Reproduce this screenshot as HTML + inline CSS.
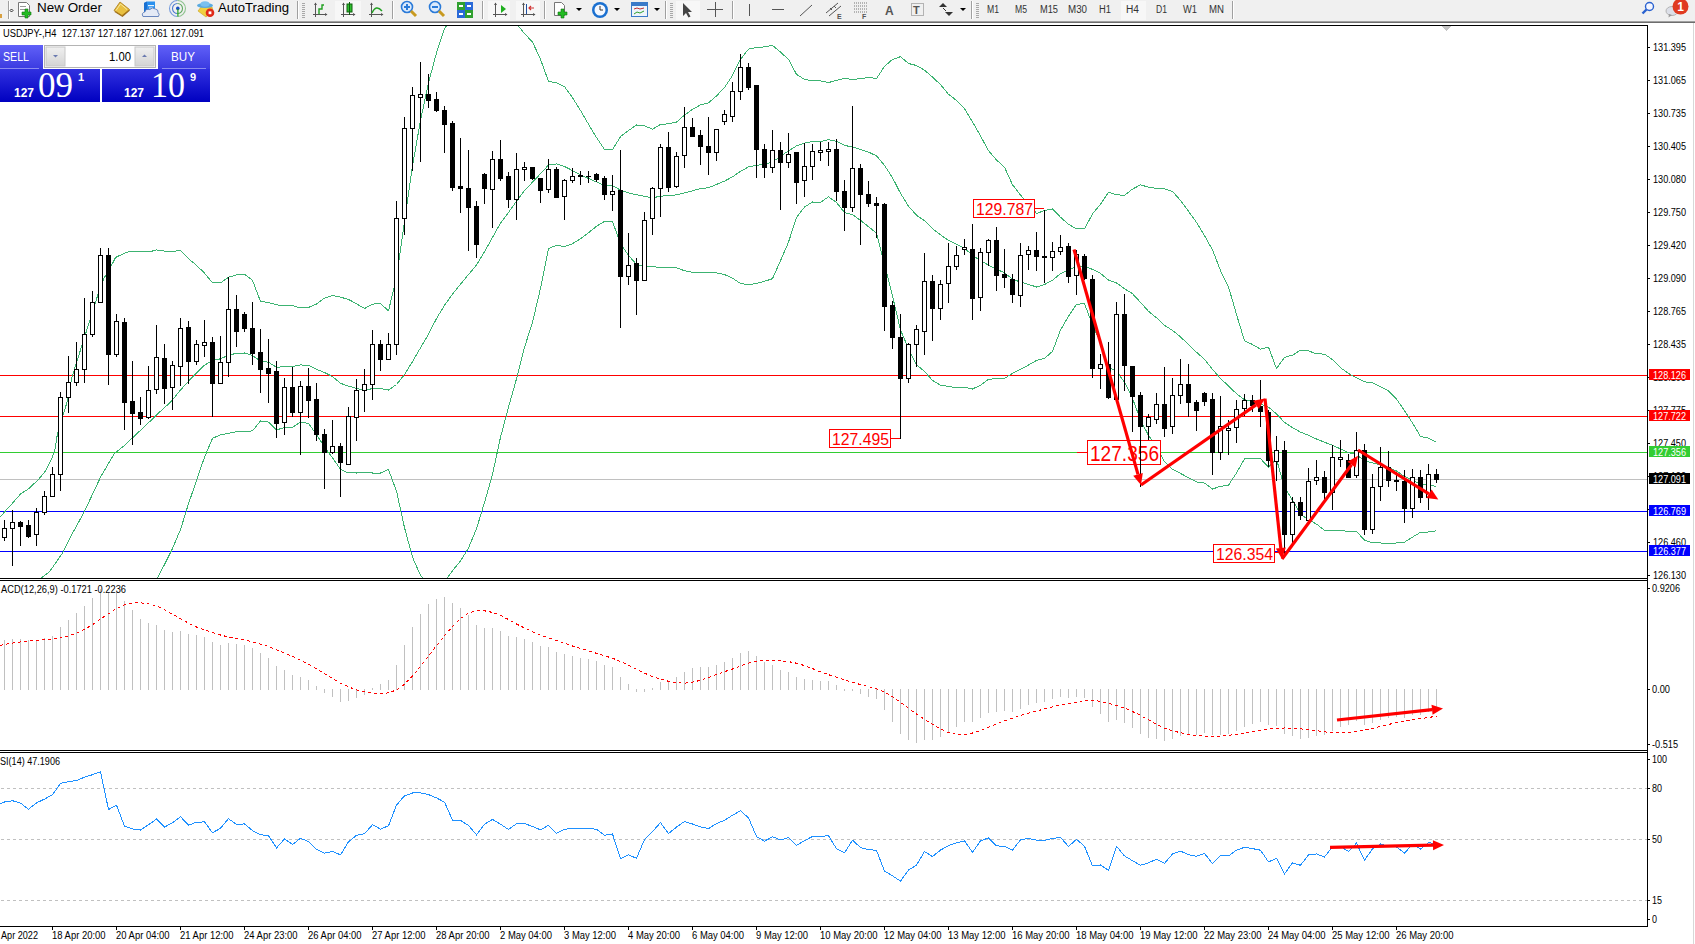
<!DOCTYPE html>
<html><head><meta charset="utf-8"><title>USDJPY H4</title>
<style>html,body{margin:0;padding:0;background:#fff;} body{width:1695px;height:944px;overflow:hidden;font-family:"Liberation Sans", sans-serif;} svg{display:block;}</style>
</head><body>
<svg width="1695" height="944" viewBox="0 0 1695 944" text-rendering="optimizeLegibility">
<defs>
<linearGradient id="gTop" x1="0" y1="0" x2="0" y2="1"><stop offset="0" stop-color="#6060f8"/><stop offset="1" stop-color="#3a3ae0"/></linearGradient>
<linearGradient id="gBot" x1="0" y1="0" x2="0" y2="1"><stop offset="0" stop-color="#3030e0"/><stop offset="1" stop-color="#0000c0"/></linearGradient>
<linearGradient id="gBtn" x1="0" y1="0" x2="0" y2="1"><stop offset="0" stop-color="#f0f0f0"/><stop offset="1" stop-color="#d4d4d4"/></linearGradient>
<clipPath id="mainclip"><rect x="0" y="26" width="1647" height="552"/></clipPath>
</defs><rect x="0" y="45" width="43" height="24" fill="url(#gTop)"/><rect x="158" y="45" width="52" height="24" fill="url(#gTop)"/><rect x="0" y="69" width="100" height="33" fill="url(#gBot)"/><rect x="102" y="69" width="108" height="33" fill="url(#gBot)"/><rect x="0" y="68" width="39" height="1" fill="#8a8af0"/><rect x="162" y="68" width="44" height="1" fill="#8a8af0"/><rect x="44.5" y="45.5" width="111" height="22" fill="#fff" stroke="#b4b4b4"/><rect x="46" y="47" width="19" height="19" fill="url(#gBtn)" stroke="#c8c8c8"/><rect x="135" y="47" width="19" height="19" fill="url(#gBtn)" stroke="#c8c8c8"/><path d="M53 55 h5 l-2.5 2.5 z" fill="#6a7ab0"/><path d="M142 57 h5 l-2.5 -2.5 z" fill="#6a7ab0"/><text x="3" y="61" font-family="Liberation Sans" font-size="12" fill="#fff" text-anchor="start" font-weight="normal" textLength="26" lengthAdjust="spacingAndGlyphs">SELL</text><text x="171" y="61" font-family="Liberation Sans" font-size="12" fill="#fff" text-anchor="start" font-weight="normal" textLength="24" lengthAdjust="spacingAndGlyphs">BUY</text><text x="131" y="61" font-family="Liberation Sans" font-size="12" fill="#000" text-anchor="end" font-weight="normal" textLength="22" lengthAdjust="spacingAndGlyphs">1.00</text><text x="14" y="97" font-family="Liberation Sans" font-size="12" fill="#fff" text-anchor="start" font-weight="bold" textLength="20" lengthAdjust="spacingAndGlyphs">127</text><text x="38" y="97" font-family="Liberation Serif" font-size="36" fill="#fff" text-anchor="start" font-weight="normal" textLength="35" lengthAdjust="spacingAndGlyphs">09</text><text x="78" y="81" font-family="Liberation Sans" font-size="11" fill="#fff" text-anchor="start" font-weight="bold">1</text><text x="124" y="97" font-family="Liberation Sans" font-size="12" fill="#fff" text-anchor="start" font-weight="bold" textLength="20" lengthAdjust="spacingAndGlyphs">127</text><text x="151" y="97" font-family="Liberation Serif" font-size="36" fill="#fff" text-anchor="start" font-weight="normal" textLength="34" lengthAdjust="spacingAndGlyphs">10</text><text x="190" y="81" font-family="Liberation Sans" font-size="11" fill="#fff" text-anchor="start" font-weight="bold">9</text>
<g shape-rendering="crispEdges"><rect x="0" y="23" width="1695" height="921" fill="#ffffff"/><rect x="1693" y="23" width="1" height="921" fill="#d8d8d8"/><rect x="0" y="25" width="1648" height="1" fill="#000"/><rect x="1647" y="25" width="1" height="902" fill="#000"/><rect x="0" y="578" width="1648" height="1" fill="#000"/><rect x="0" y="580" width="1648" height="1" fill="#000"/><rect x="0" y="750" width="1648" height="1" fill="#000"/><rect x="0" y="752" width="1648" height="1" fill="#000"/><rect x="0" y="926" width="1648" height="1" fill="#000"/><path d="M1442 26 h9 l-4.5 5 z" fill="#c4c4c4"/></g>
<g><rect x="0" y="0" width="1695" height="21" fill="#f0f0f0"/><rect x="0" y="21" width="1695" height="1" fill="#a0a0a0"/><rect x="0" y="22" width="1695" height="1" fill="#6d6d6d"/><rect x="8" y="1" width="1" height="18" fill="#a0a0a0"/><rect x="9" y="1" width="1" height="18" fill="#ffffff"/><rect x="297" y="1" width="1" height="18" fill="#a0a0a0"/><rect x="298" y="1" width="1" height="18" fill="#ffffff"/><rect x="392" y="1" width="1" height="18" fill="#a0a0a0"/><rect x="393" y="1" width="1" height="18" fill="#ffffff"/><rect x="482" y="1" width="1" height="18" fill="#a0a0a0"/><rect x="483" y="1" width="1" height="18" fill="#ffffff"/><rect x="544" y="1" width="1" height="18" fill="#a0a0a0"/><rect x="545" y="1" width="1" height="18" fill="#ffffff"/><rect x="665" y="1" width="1" height="18" fill="#a0a0a0"/><rect x="666" y="1" width="1" height="18" fill="#ffffff"/><rect x="732" y="1" width="1" height="18" fill="#a0a0a0"/><rect x="733" y="1" width="1" height="18" fill="#ffffff"/><rect x="971" y="1" width="1" height="18" fill="#a0a0a0"/><rect x="972" y="1" width="1" height="18" fill="#ffffff"/><rect x="1232" y="1" width="1" height="18" fill="#a0a0a0"/><rect x="1233" y="1" width="1" height="18" fill="#ffffff"/><rect x="302" y="3" width="3" height="1" fill="#a8a8a8"/><rect x="302" y="5" width="3" height="1" fill="#a8a8a8"/><rect x="302" y="7" width="3" height="1" fill="#a8a8a8"/><rect x="302" y="9" width="3" height="1" fill="#a8a8a8"/><rect x="302" y="11" width="3" height="1" fill="#a8a8a8"/><rect x="302" y="13" width="3" height="1" fill="#a8a8a8"/><rect x="302" y="15" width="3" height="1" fill="#a8a8a8"/><rect x="302" y="17" width="3" height="1" fill="#a8a8a8"/><rect x="670" y="3" width="3" height="1" fill="#a8a8a8"/><rect x="670" y="5" width="3" height="1" fill="#a8a8a8"/><rect x="670" y="7" width="3" height="1" fill="#a8a8a8"/><rect x="670" y="9" width="3" height="1" fill="#a8a8a8"/><rect x="670" y="11" width="3" height="1" fill="#a8a8a8"/><rect x="670" y="13" width="3" height="1" fill="#a8a8a8"/><rect x="670" y="15" width="3" height="1" fill="#a8a8a8"/><rect x="670" y="17" width="3" height="1" fill="#a8a8a8"/><rect x="976" y="3" width="3" height="1" fill="#a8a8a8"/><rect x="976" y="5" width="3" height="1" fill="#a8a8a8"/><rect x="976" y="7" width="3" height="1" fill="#a8a8a8"/><rect x="976" y="9" width="3" height="1" fill="#a8a8a8"/><rect x="976" y="11" width="3" height="1" fill="#a8a8a8"/><rect x="976" y="13" width="3" height="1" fill="#a8a8a8"/><rect x="976" y="15" width="3" height="1" fill="#a8a8a8"/><rect x="976" y="17" width="3" height="1" fill="#a8a8a8"/><rect x="335" y="1" width="26" height="19" fill="#f7f7f7"/><rect x="488" y="1" width="22" height="19" fill="#f7f7f7"/><rect x="516" y="1" width="24" height="19" fill="#f7f7f7"/><rect x="676" y="1" width="24" height="19" fill="#f7f7f7"/><rect x="1121" y="1" width="25" height="19" fill="#f7f7f7"/><rect x="0" y="14" width="2" height="4" fill="#d8a040"/><path d="M11.5 9 l1.5 1.5 l-1.5 1.5 l-1.5 -1.5 z" fill="none" stroke="#000" stroke-width="0.8"/><path d="M18.5 2.5 h8 l3 3 v11 h-11 z" fill="#fff" stroke="#777" stroke-width="1"/><rect x="20" y="6" width="6" height="1" fill="#999"/><rect x="20" y="9" width="6" height="1" fill="#999"/><path d="M25 9 h3 v3 h3 v3 h-3 v3 h-3 v-3 h-3 v-3 h3 z" fill="#22bb22" stroke="#117711" stroke-width="0.6"/><text x="37" y="12" font-family="Liberation Sans" font-size="13" fill="#000" text-anchor="start" font-weight="normal" textLength="65" lengthAdjust="spacingAndGlyphs">New Order</text><path d="M114.5 12 L120 3 L130 10.5 L122.5 17 Z" fill="#9a6a18"/><path d="M114 10.5 L120 2 L129.5 9.5 L122 15.5 Z" fill="#e8c040" stroke="#a8781a" stroke-width="0.8"/><path d="M116 10.5 L120.5 4 L127 9.5" fill="none" stroke="#f8e8a0" stroke-width="1"/><path d="M144 3 L147 1.5 L155 1.5 L155 12 L144 12 Z" fill="#2a90ee"/><path d="M144 3 L147 1.5 L147 12 L144 12 Z" fill="#1a70d0"/><rect x="148" y="5" width="6" height="1.2" fill="#e8f4ff"/><rect x="149" y="7.5" width="4" height="1" fill="#e8f4ff"/><path d="M143 16.5 q-2 -3.5 1.8 -4.5 q1 -3.5 5 -2.5 q2.5 -2.8 5.5 -0.5 q3.2 0.5 2.8 3.5 q2 1.5 0.4 4 z" fill="#e4eaf6" stroke="#5a7ab8" stroke-width="0.9"/><path d="M177.5 16.5 A8 8 0 0 1 177.5 0.5" fill="none" stroke="#5a88d8" stroke-width="1.1" opacity="0.8"/><path d="M177.5 0.5 A8 8 0 0 1 177.5 16.5" fill="none" stroke="#78b878" stroke-width="1.1" opacity="0.8"/><path d="M177.5 13.5 A5 5 0 0 1 177.5 3.5" fill="none" stroke="#4a78d0" stroke-width="1.1"/><path d="M177.5 3.5 A5 5 0 0 1 177.5 13.5" fill="none" stroke="#60a860" stroke-width="1.1"/><circle cx="177.8" cy="8.4" r="1.8" fill="#1a50c0"/><rect x="177.3" y="9" width="1.2" height="7.5" fill="#20a020"/><path d="M198 11 L201 7 L212 7 L213 11 L206 17 Z" fill="#f0d040" stroke="#c8a020" stroke-width="0.6"/><ellipse cx="205" cy="5.5" rx="8" ry="2.6" fill="#5aaae0"/><ellipse cx="205" cy="4" rx="4.5" ry="2.8" fill="#7ac0ee"/><circle cx="210" cy="12.8" r="4.3" fill="#e02a18"/><rect x="208.6" y="11.4" width="2.8" height="2.8" fill="#fff"/><text x="218" y="12" font-family="Liberation Sans" font-size="13" fill="#000" text-anchor="start" font-weight="normal" textLength="71" lengthAdjust="spacingAndGlyphs">AutoTrading</text><path d="M315.5 3 v14 M313 14.5 h14" fill="none" stroke="#555" stroke-width="1"/><path d="M314 5 l1.5 -2.5 l1.5 2.5 z M325 13 l2.5 1.5 l-2.5 1.5 z" fill="#555"/><path d="M319 14 v-5 h3 v-4 h2" fill="none" stroke="#20a020" stroke-width="1.4"/><path d="M343.5 3 v14 M341 14.5 h14" fill="none" stroke="#555" stroke-width="1"/><path d="M342 5 l1.5 -2.5 l1.5 2.5 z M353 13 l2.5 1.5 l-2.5 1.5 z" fill="#555"/><rect x="347" y="4" width="5" height="8" fill="#30c030" stroke="#106010" stroke-width="1"/><rect x="349" y="2" width="1" height="13" fill="#106010"/><path d="M371.5 3 v14 M369 14.5 h14" fill="none" stroke="#555" stroke-width="1"/><path d="M370 5 l1.5 -2.5 l1.5 2.5 z M381 13 l2.5 1.5 l-2.5 1.5 z" fill="#555"/><path d="M372 13 q4 -9 10 -2" fill="none" stroke="#20a020" stroke-width="1.4"/><circle cx="407" cy="7" r="5.5" fill="#dbeafc" stroke="#2a7ad8" stroke-width="1.6"/><path d="M411 11 l5 5" stroke="#c89a20" stroke-width="3"/><rect x="404" y="6" width="6" height="2" fill="#2a7ad8"/><rect x="406" y="4" width="2" height="6" fill="#2a7ad8"/><circle cx="435" cy="7" r="5.5" fill="#dbeafc" stroke="#2a7ad8" stroke-width="1.6"/><path d="M439 11 l5 5" stroke="#c89a20" stroke-width="3"/><rect x="432" y="6" width="6" height="2" fill="#2a7ad8"/><rect x="457" y="2" width="8" height="8" fill="#30a030"/><rect x="465" y="2" width="8" height="8" fill="#2a6ad8"/><rect x="457" y="10" width="8" height="8" fill="#2a6ad8"/><rect x="465" y="10" width="8" height="8" fill="#30a030"/><rect x="459" y="5" width="4" height="2" fill="#fff"/><rect x="467" y="5" width="4" height="2" fill="#fff"/><rect x="459" y="13" width="4" height="2" fill="#fff"/><rect x="467" y="13" width="4" height="2" fill="#fff"/><path d="M495.5 3 v14 M493 14.5 h14" fill="none" stroke="#555" stroke-width="1"/><path d="M494 5 l1.5 -2.5 l1.5 2.5 z M505 13 l2.5 1.5 l-2.5 1.5 z" fill="#555"/><path d="M501 5 l5 4 l-5 4 z" fill="#20b020"/><path d="M523.5 3 v14 M521 14.5 h14" fill="none" stroke="#555" stroke-width="1"/><path d="M522 5 l1.5 -2.5 l1.5 2.5 z M533 13 l2.5 1.5 l-2.5 1.5 z" fill="#555"/><rect x="526" y="4" width="1" height="10" fill="#2050a0"/><path d="M534 8 h-5 M531 6 l-2 2 l2 2" fill="none" stroke="#d03030" stroke-width="1.2"/><path d="M554.5 2.5 h7 l3 3 v10 h-10 z" fill="#fff" stroke="#777"/><path d="M561 9 h3 v3 h3 v3 h-3 v3 h-3 v-3 h-3 v-3 h3 z" fill="#22bb22" stroke="#117711" stroke-width="0.6"/><path d="M576 8 h6 l-3 3 z" fill="#000"/><path d="M614 8 h6 l-3 3 z" fill="#000"/><path d="M654 8 h6 l-3 3 z" fill="#000"/><path d="M960 8 h6 l-3 3 z" fill="#000"/><circle cx="600" cy="10" r="8" fill="#1a70d0"/><circle cx="600" cy="10" r="5.5" fill="#f4f8ff"/><path d="M600 6 v4 h3" stroke="#333" stroke-width="1" fill="none"/><rect x="631.5" y="2.5" width="16" height="14" fill="#eef4fb" stroke="#3a7ac8"/><rect x="632" y="3" width="15" height="3" fill="#3a7ac8"/><path d="M634 9 l3 -1 l3 1 l4 -1" stroke="#c03030" fill="none"/><path d="M634 14 l3 -2 l3 1 l4 -2" stroke="#30a030" fill="none"/><path d="M683 3 v13 l3 -3 l2.5 4.5 l2 -1 l-2.5 -4.5 h4 z" fill="#444"/><path d="M707 9.5 h16 M715.5 2 v15" stroke="#555" stroke-width="1"/><rect x="749" y="4" width="1" height="12" fill="#555"/><rect x="772" y="9" width="12" height="1" fill="#555"/><path d="M800 16 l12 -11" stroke="#555" stroke-width="1"/><path d="M826 13 l12 -10 M829 16 l12 -10 M830 8 l2 2 M834 6 l2 2" stroke="#555" stroke-width="1" fill="none"/><text x="837" y="19" font-family="Liberation Sans" font-size="7" font-weight="bold" fill="#555">E</text><path d="M854 3 h13 M854 6 h13 M854 9 h13 M854 12 h13" stroke="#777" stroke-dasharray="1,1"/><text x="862" y="19" font-family="Liberation Sans" font-size="7" font-weight="bold" fill="#555">F</text><text x="885" y="15" font-family="Liberation Sans" font-size="12" fill="#555" text-anchor="start" font-weight="bold">A</text><rect x="911.5" y="3.5" width="12" height="12" fill="none" stroke="#777" stroke-dasharray="1,1"/><text x="913" y="14" font-family="Liberation Sans" font-size="11" fill="#555" text-anchor="start" font-weight="bold">T</text><path d="M939 7 l4 -4 l4 4 z M945 12 l4 4 l4 -4 z" fill="#333"/><path d="M943 8 l3 3" stroke="#333"/><text x="987" y="13" font-family="Liberation Sans" font-size="10" fill="#333" text-anchor="start" font-weight="normal" textLength="12" lengthAdjust="spacingAndGlyphs">M1</text><text x="1015" y="13" font-family="Liberation Sans" font-size="10" fill="#333" text-anchor="start" font-weight="normal" textLength="12" lengthAdjust="spacingAndGlyphs">M5</text><text x="1040" y="13" font-family="Liberation Sans" font-size="10" fill="#333" text-anchor="start" font-weight="normal" textLength="18" lengthAdjust="spacingAndGlyphs">M15</text><text x="1068" y="13" font-family="Liberation Sans" font-size="10" fill="#333" text-anchor="start" font-weight="normal" textLength="19" lengthAdjust="spacingAndGlyphs">M30</text><text x="1099" y="13" font-family="Liberation Sans" font-size="10" fill="#333" text-anchor="start" font-weight="normal" textLength="12" lengthAdjust="spacingAndGlyphs">H1</text><text x="1126" y="13" font-family="Liberation Sans" font-size="10" fill="#333" text-anchor="start" font-weight="normal" textLength="13" lengthAdjust="spacingAndGlyphs">H4</text><text x="1156" y="13" font-family="Liberation Sans" font-size="10" fill="#333" text-anchor="start" font-weight="normal" textLength="11" lengthAdjust="spacingAndGlyphs">D1</text><text x="1183" y="13" font-family="Liberation Sans" font-size="10" fill="#333" text-anchor="start" font-weight="normal" textLength="14" lengthAdjust="spacingAndGlyphs">W1</text><text x="1209" y="13" font-family="Liberation Sans" font-size="10" fill="#333" text-anchor="start" font-weight="normal" textLength="15" lengthAdjust="spacingAndGlyphs">MN</text><circle cx="1649.5" cy="6.5" r="4" fill="#f4f6ff" stroke="#2a62d0" stroke-width="1.4"/><path d="M1646.5 9.5 l-4 4" stroke="#2a62d0" stroke-width="2.4"/><ellipse cx="1672" cy="11" rx="6" ry="4.5" fill="#dcdfe8" stroke="#b4b4b4" stroke-width="1"/><path d="M1669 14 l-0.5 3.5 l3.5 -2.5" fill="#999"/><circle cx="1680.5" cy="6.5" r="8" fill="#e03a20"/><text x="1680.5" y="11" font-family="Liberation Sans" font-size="12" fill="#fff" text-anchor="middle" font-weight="bold">1</text></g>
<g shape-rendering="crispEdges"><rect x="0" y="375" width="1647" height="1" fill="#ff0000"/><rect x="0" y="416" width="1647" height="1" fill="#ff0000"/><rect x="0" y="452" width="1647" height="1" fill="#32cd32"/><rect x="0" y="479" width="1647" height="1" fill="#c0c0c0"/><rect x="0" y="511" width="1647" height="1" fill="#0000ff"/><rect x="0" y="551" width="1647" height="1" fill="#0000ff"/><g clip-path="url(#mainclip)"><polyline points="0.0,517.3 5.7,510.6 11.4,504.5 21.0,493.4 27.6,489.6 38.1,480.0 45.8,470.5 52.4,457.2 55.3,447.7 57.2,435.3 63.0,415.3 67.7,400.0 72.0,377.0 97.5,296.0 104.0,278.0 106.0,275.0 111.0,266.3 115.6,257.5 119.4,255.6 126.0,252.6 130.5,251.5 152.0,251.5 152.7,250.5 156.5,249.9 164.5,251.1 172.5,251.5 180.5,250.5 188.5,258.7 196.5,265.3 204.5,273.1 212.5,282.8 220.5,282.9 228.5,277.2 236.5,274.9 244.5,274.3 252.5,280.3 260.5,301.5 268.5,302.4 276.5,304.9 284.5,305.5 292.5,305.6 300.5,307.9 308.5,307.4 316.5,304.0 324.5,298.1 332.5,295.5 340.5,297.2 348.5,299.4 356.5,303.8 364.5,308.5 372.5,304.1 380.5,303.7 388.5,310.8 396.5,277.9 404.5,221.4 412.5,166.0 420.5,120.4 428.5,82.9 436.5,52.8 444.5,28.7 452.5,17.5 460.5,7.3 468.5,1.0 476.5,1.5 484.5,1.1 492.5,0.5 500.5,9.1 508.5,17.5 516.5,23.7 524.5,33.6 532.5,42.0 540.5,59.2 548.5,81.5 556.5,82.6 564.5,86.6 572.5,97.6 580.5,110.5 588.5,124.2 596.5,137.5 604.5,149.6 612.5,149.7 620.5,136.6 628.5,130.5 636.5,125.0 644.5,125.8 652.5,129.2 660.5,124.5 668.5,123.8 676.5,122.1 684.5,115.1 692.5,109.4 700.5,104.9 708.5,102.9 716.5,95.9 724.5,87.6 732.5,75.4 740.5,59.4 748.5,49.1 756.5,47.5 764.5,46.9 772.5,45.4 780.5,52.1 788.5,59.4 796.5,74.3 804.5,79.4 812.5,80.8 820.5,80.9 828.5,82.6 836.5,80.3 844.5,78.4 852.5,79.4 860.5,78.7 868.5,77.4 876.5,78.5 884.5,66.4 892.5,59.4 900.5,56.7 908.5,63.5 916.5,65.5 924.5,70.2 932.5,77.1 940.5,84.6 948.5,94.3 956.5,100.4 964.5,108.8 972.5,121.9 980.5,135.9 988.5,150.7 996.5,160.0 1004.5,167.2 1012.5,184.7 1020.5,195.1 1028.5,203.7 1036.5,213.5 1044.5,210.5 1052.5,209.0 1060.5,217.2 1068.5,224.2 1076.5,228.9 1084.5,229.0 1092.5,213.9 1100.5,204.2 1108.5,192.3 1116.5,194.8 1124.5,195.3 1132.5,189.1 1140.5,184.8 1148.5,187.2 1156.5,188.4 1164.5,188.8 1172.5,191.4 1180.5,200.4 1188.5,211.3 1196.5,222.4 1204.5,235.6 1212.5,249.9 1220.5,270.6 1228.5,286.8 1236.5,314.5 1244.5,340.8 1252.5,344.5 1260.5,349.2 1268.5,347.2 1276.5,368.6 1284.5,357.3 1292.5,355.2 1300.5,350.2 1308.5,350.9 1316.5,353.8 1324.5,354.1 1332.5,359.6 1340.5,367.7 1348.5,373.5 1356.5,377.9 1364.5,381.8 1372.5,382.9 1380.5,386.7 1388.5,390.9 1396.5,399.1 1404.5,410.7 1412.5,423.0 1420.5,436.5 1428.5,438.2 1436.5,442.3" fill="none" stroke="#3CB371" stroke-width="1"/><polyline points="39.0,581.0 41.0,578.3 49.6,571.6 62.9,552.5 72.4,533.5 83.9,512.5 101.0,476.3 114.4,453.4 124.0,445.8 139.2,431.5 152.5,419.0 156.5,414.8 164.5,407.8 172.5,399.9 180.5,390.0 188.5,381.2 196.5,372.8 204.5,365.2 212.5,360.6 220.5,358.8 228.5,355.2 236.5,353.3 244.5,353.0 252.5,355.6 260.5,361.2 268.5,362.2 276.5,367.3 284.5,366.6 292.5,366.5 300.5,364.9 308.5,365.4 316.5,369.3 324.5,372.5 332.5,376.6 340.5,383.3 348.5,386.1 356.5,388.4 364.5,390.5 372.5,388.5 380.5,388.4 388.5,390.1 396.5,384.5 404.5,374.5 412.5,361.6 420.5,347.8 428.5,334.2 436.5,318.5 444.5,305.3 452.5,294.1 460.5,284.2 468.5,274.5 476.5,265.1 484.5,251.8 492.5,237.4 500.5,223.2 508.5,212.4 516.5,201.3 524.5,190.5 532.5,182.2 540.5,173.7 548.5,165.0 556.5,163.9 564.5,166.5 572.5,170.6 580.5,174.7 588.5,178.5 596.5,181.9 604.5,185.4 612.5,185.7 620.5,190.1 628.5,193.0 636.5,194.7 644.5,196.3 652.5,197.8 660.5,196.2 668.5,195.6 676.5,194.9 684.5,192.9 692.5,190.8 700.5,188.6 708.5,187.8 716.5,184.4 724.5,181.1 732.5,176.8 740.5,171.4 748.5,166.9 756.5,165.4 764.5,164.1 772.5,162.0 780.5,156.4 788.5,150.8 796.5,145.9 804.5,143.2 812.5,141.4 820.5,141.6 828.5,139.7 836.5,141.4 844.5,145.4 852.5,147.0 860.5,149.5 868.5,152.1 876.5,155.8 884.5,165.4 892.5,177.7 900.5,193.3 908.5,206.2 916.5,215.2 924.5,220.8 932.5,228.7 940.5,234.8 948.5,240.4 956.5,244.1 964.5,248.1 972.5,255.5 980.5,260.6 988.5,265.1 996.5,269.3 1004.5,272.8 1012.5,279.1 1020.5,282.1 1028.5,284.4 1036.5,287.0 1044.5,284.5 1052.5,280.2 1060.5,273.6 1068.5,270.2 1076.5,266.5 1084.5,266.4 1092.5,269.4 1100.5,273.4 1108.5,280.0 1116.5,282.9 1124.5,288.8 1132.5,293.7 1140.5,302.4 1148.5,311.3 1156.5,317.8 1164.5,325.3 1172.5,330.4 1180.5,336.9 1188.5,344.5 1196.5,352.2 1204.5,359.4 1212.5,369.4 1220.5,378.4 1228.5,386.0 1236.5,393.7 1244.5,399.8 1252.5,401.6 1260.5,403.9 1268.5,407.1 1276.5,413.9 1284.5,422.4 1292.5,427.7 1300.5,432.1 1308.5,435.3 1316.5,439.0 1324.5,442.2 1332.5,445.3 1340.5,448.9 1348.5,452.6 1356.5,454.6 1364.5,461.0 1372.5,462.8 1380.5,464.8 1388.5,467.4 1396.5,471.0 1404.5,476.5 1412.5,480.1 1420.5,484.4 1428.5,485.1 1436.5,486.5" fill="none" stroke="#3CB371" stroke-width="1"/><polyline points="155.0,581.0 156.5,579.7 164.5,564.5 172.5,548.4 180.5,529.5 188.5,503.8 196.5,480.4 204.5,457.2 212.5,438.4 220.5,434.8 228.5,433.3 236.5,431.7 244.5,431.8 252.5,430.8 260.5,421.0 268.5,422.1 276.5,429.8 284.5,427.7 292.5,427.4 300.5,421.9 308.5,423.4 316.5,434.5 324.5,447.0 332.5,457.7 340.5,469.5 348.5,472.9 356.5,473.0 364.5,472.5 372.5,473.0 380.5,473.0 388.5,469.5 396.5,491.1 404.5,527.6 412.5,557.2 420.5,575.3 428.5,585.5 436.5,584.2 444.5,582.0 452.5,570.7 460.5,561.1 468.5,548.0 476.5,528.6 484.5,502.6 492.5,474.4 500.5,437.3 508.5,407.3 516.5,378.8 524.5,347.3 532.5,322.4 540.5,288.3 548.5,248.5 556.5,245.3 564.5,246.5 572.5,243.7 580.5,238.8 588.5,232.7 596.5,226.3 604.5,221.3 612.5,221.6 620.5,243.5 628.5,255.4 636.5,264.5 644.5,266.8 652.5,266.3 660.5,267.8 668.5,267.3 676.5,267.8 684.5,270.7 692.5,272.3 700.5,272.4 708.5,272.6 716.5,272.8 724.5,274.6 732.5,278.2 740.5,283.4 748.5,284.8 756.5,283.4 764.5,281.3 772.5,278.7 780.5,260.6 788.5,242.2 796.5,217.4 804.5,207.1 812.5,202.0 820.5,202.3 828.5,196.8 836.5,202.5 844.5,212.5 852.5,214.7 860.5,220.3 868.5,226.7 876.5,233.2 884.5,264.4 892.5,296.0 900.5,329.9 908.5,348.8 916.5,364.8 924.5,371.5 932.5,380.4 940.5,385.1 948.5,386.5 956.5,387.8 964.5,387.4 972.5,389.0 980.5,385.2 988.5,379.4 996.5,378.6 1004.5,378.4 1012.5,373.4 1020.5,369.1 1028.5,365.1 1036.5,360.4 1044.5,358.5 1052.5,351.4 1060.5,330.1 1068.5,316.3 1076.5,304.2 1084.5,303.8 1092.5,324.8 1100.5,342.7 1108.5,367.6 1116.5,371.0 1124.5,382.3 1132.5,398.3 1140.5,420.0 1148.5,435.4 1156.5,447.1 1164.5,461.8 1172.5,469.4 1180.5,473.4 1188.5,477.8 1196.5,481.9 1204.5,483.1 1212.5,489.0 1220.5,486.3 1228.5,485.2 1236.5,472.9 1244.5,458.8 1252.5,458.8 1260.5,458.7 1268.5,467.0 1276.5,459.2 1284.5,487.4 1292.5,500.2 1300.5,514.1 1308.5,519.7 1316.5,524.1 1324.5,530.2 1332.5,530.9 1340.5,530.1 1348.5,531.8 1356.5,531.4 1364.5,540.2 1372.5,542.7 1380.5,543.0 1388.5,544.0 1396.5,542.9 1404.5,542.2 1412.5,537.1 1420.5,532.3 1428.5,532.0 1436.5,530.8" fill="none" stroke="#3CB371" stroke-width="1"/></g></g>
<g><rect x="973.5" y="199.5" width="61" height="18" fill="#fff" stroke="#ff0000"/><text x="976" y="215" font-family="Liberation Sans" font-size="16.5" fill="#ff0000" text-anchor="start" font-weight="normal" textLength="57" lengthAdjust="spacingAndGlyphs">129.787</text><rect x="1034" y="208" width="10" height="1" fill="#ff0000"/><rect x="829.5" y="429.5" width="61" height="18" fill="#fff" stroke="#ff0000"/><text x="832" y="445" font-family="Liberation Sans" font-size="16.5" fill="#ff0000" text-anchor="start" font-weight="normal" textLength="57" lengthAdjust="spacingAndGlyphs">127.495</text><rect x="890" y="438" width="10" height="1" fill="#ff0000"/><rect x="1087.5" y="440.5" width="73" height="24" fill="#fff" stroke="#ff0000"/><text x="1090" y="461" font-family="Liberation Sans" font-size="22" fill="#ff0000" text-anchor="start" font-weight="normal" textLength="69" lengthAdjust="spacingAndGlyphs">127.356</text><rect x="1077" y="452" width="10" height="1" fill="#ff0000"/><rect x="1213.5" y="544.5" width="61" height="18" fill="#fff" stroke="#ff0000"/><text x="1216" y="560" font-family="Liberation Sans" font-size="16.5" fill="#ff0000" text-anchor="start" font-weight="normal" textLength="57" lengthAdjust="spacingAndGlyphs">126.354</text><rect x="1275" y="552" width="9" height="1" fill="#ff0000"/></g>
<g shape-rendering="crispEdges"><rect x="4" y="520" width="1" height="21" fill="#000"/><rect x="2" y="528" width="5" height="10" fill="#000"/><rect x="3" y="529" width="3" height="8" fill="#fff"/><rect x="12" y="510" width="1" height="56" fill="#000"/><rect x="10" y="522" width="5" height="7" fill="#000"/><rect x="11" y="523" width="3" height="5" fill="#fff"/><rect x="20" y="521" width="1" height="25" fill="#000"/><rect x="18" y="522" width="5" height="5" fill="#000"/><rect x="28" y="520" width="1" height="18" fill="#000"/><rect x="26" y="525" width="5" height="12" fill="#000"/><rect x="36" y="508" width="1" height="38" fill="#000"/><rect x="34" y="512" width="5" height="23" fill="#000"/><rect x="35" y="513" width="3" height="21" fill="#fff"/><rect x="44" y="491" width="1" height="24" fill="#000"/><rect x="42" y="496" width="5" height="17" fill="#000"/><rect x="43" y="497" width="3" height="15" fill="#fff"/><rect x="52" y="467" width="1" height="30" fill="#000"/><rect x="50" y="474" width="5" height="23" fill="#000"/><rect x="51" y="475" width="3" height="21" fill="#fff"/><rect x="60" y="392" width="1" height="99" fill="#000"/><rect x="58" y="397" width="5" height="78" fill="#000"/><rect x="59" y="398" width="3" height="76" fill="#fff"/><rect x="68" y="356" width="1" height="57" fill="#000"/><rect x="66" y="382" width="5" height="16" fill="#000"/><rect x="67" y="383" width="3" height="14" fill="#fff"/><rect x="76" y="342" width="1" height="44" fill="#000"/><rect x="74" y="369" width="5" height="14" fill="#000"/><rect x="75" y="370" width="3" height="12" fill="#fff"/><rect x="84" y="298" width="1" height="85" fill="#000"/><rect x="82" y="334" width="5" height="36" fill="#000"/><rect x="83" y="335" width="3" height="34" fill="#fff"/><rect x="92" y="291" width="1" height="46" fill="#000"/><rect x="90" y="302" width="5" height="33" fill="#000"/><rect x="91" y="303" width="3" height="31" fill="#fff"/><rect x="100" y="248" width="1" height="55" fill="#000"/><rect x="98" y="255" width="5" height="48" fill="#000"/><rect x="99" y="256" width="3" height="46" fill="#fff"/><rect x="108" y="248" width="1" height="137" fill="#000"/><rect x="106" y="255" width="5" height="100" fill="#000"/><rect x="116" y="314" width="1" height="43" fill="#000"/><rect x="114" y="321" width="5" height="34" fill="#000"/><rect x="115" y="322" width="3" height="32" fill="#fff"/><rect x="124" y="318" width="1" height="112" fill="#000"/><rect x="122" y="322" width="5" height="81" fill="#000"/><rect x="132" y="361" width="1" height="84" fill="#000"/><rect x="130" y="401" width="5" height="13" fill="#000"/><rect x="140" y="397" width="1" height="28" fill="#000"/><rect x="138" y="412" width="5" height="7" fill="#000"/><rect x="148" y="366" width="1" height="53" fill="#000"/><rect x="146" y="390" width="5" height="28" fill="#000"/><rect x="147" y="391" width="3" height="26" fill="#fff"/><rect x="156" y="325" width="1" height="69" fill="#000"/><rect x="154" y="357" width="5" height="33" fill="#000"/><rect x="155" y="358" width="3" height="31" fill="#fff"/><rect x="164" y="344" width="1" height="60" fill="#000"/><rect x="162" y="358" width="5" height="31" fill="#000"/><rect x="172" y="361" width="1" height="49" fill="#000"/><rect x="170" y="365" width="5" height="23" fill="#000"/><rect x="171" y="366" width="3" height="21" fill="#fff"/><rect x="180" y="318" width="1" height="68" fill="#000"/><rect x="178" y="328" width="5" height="39" fill="#000"/><rect x="179" y="329" width="3" height="37" fill="#fff"/><rect x="188" y="321" width="1" height="63" fill="#000"/><rect x="186" y="327" width="5" height="35" fill="#000"/><rect x="196" y="340" width="1" height="25" fill="#000"/><rect x="194" y="344" width="5" height="18" fill="#000"/><rect x="195" y="345" width="3" height="16" fill="#fff"/><rect x="204" y="320" width="1" height="37" fill="#000"/><rect x="202" y="342" width="5" height="4" fill="#000"/><rect x="203" y="343" width="3" height="2" fill="#fff"/><rect x="212" y="337" width="1" height="80" fill="#000"/><rect x="210" y="342" width="5" height="42" fill="#000"/><rect x="220" y="336" width="1" height="48" fill="#000"/><rect x="218" y="362" width="5" height="22" fill="#000"/><rect x="219" y="363" width="3" height="20" fill="#fff"/><rect x="228" y="277" width="1" height="100" fill="#000"/><rect x="226" y="309" width="5" height="54" fill="#000"/><rect x="227" y="310" width="3" height="52" fill="#fff"/><rect x="236" y="295" width="1" height="52" fill="#000"/><rect x="234" y="309" width="5" height="23" fill="#000"/><rect x="244" y="312" width="1" height="20" fill="#000"/><rect x="242" y="314" width="5" height="15" fill="#000"/><rect x="252" y="302" width="1" height="63" fill="#000"/><rect x="250" y="328" width="5" height="26" fill="#000"/><rect x="260" y="329" width="1" height="64" fill="#000"/><rect x="258" y="352" width="5" height="18" fill="#000"/><rect x="268" y="339" width="1" height="64" fill="#000"/><rect x="266" y="368" width="5" height="6" fill="#000"/><rect x="276" y="361" width="1" height="77" fill="#000"/><rect x="274" y="371" width="5" height="53" fill="#000"/><rect x="284" y="378" width="1" height="57" fill="#000"/><rect x="282" y="387" width="5" height="36" fill="#000"/><rect x="283" y="388" width="3" height="34" fill="#fff"/><rect x="292" y="367" width="1" height="50" fill="#000"/><rect x="290" y="387" width="5" height="26" fill="#000"/><rect x="300" y="381" width="1" height="74" fill="#000"/><rect x="298" y="386" width="5" height="27" fill="#000"/><rect x="299" y="387" width="3" height="25" fill="#fff"/><rect x="308" y="368" width="1" height="50" fill="#000"/><rect x="306" y="386" width="5" height="15" fill="#000"/><rect x="316" y="383" width="1" height="58" fill="#000"/><rect x="314" y="399" width="5" height="36" fill="#000"/><rect x="324" y="429" width="1" height="60" fill="#000"/><rect x="322" y="434" width="5" height="19" fill="#000"/><rect x="332" y="420" width="1" height="34" fill="#000"/><rect x="330" y="446" width="5" height="7" fill="#000"/><rect x="331" y="447" width="3" height="5" fill="#fff"/><rect x="340" y="443" width="1" height="54" fill="#000"/><rect x="338" y="446" width="5" height="17" fill="#000"/><rect x="348" y="407" width="1" height="58" fill="#000"/><rect x="346" y="416" width="5" height="49" fill="#000"/><rect x="347" y="417" width="3" height="47" fill="#fff"/><rect x="356" y="379" width="1" height="62" fill="#000"/><rect x="354" y="390" width="5" height="28" fill="#000"/><rect x="355" y="391" width="3" height="26" fill="#fff"/><rect x="364" y="369" width="1" height="43" fill="#000"/><rect x="362" y="384" width="5" height="7" fill="#000"/><rect x="363" y="385" width="3" height="5" fill="#fff"/><rect x="372" y="330" width="1" height="70" fill="#000"/><rect x="370" y="344" width="5" height="41" fill="#000"/><rect x="371" y="345" width="3" height="39" fill="#fff"/><rect x="380" y="340" width="1" height="31" fill="#000"/><rect x="378" y="344" width="5" height="16" fill="#000"/><rect x="388" y="333" width="1" height="27" fill="#000"/><rect x="386" y="344" width="5" height="16" fill="#000"/><rect x="387" y="345" width="3" height="14" fill="#fff"/><rect x="396" y="201" width="1" height="154" fill="#000"/><rect x="394" y="218" width="5" height="127" fill="#000"/><rect x="395" y="219" width="3" height="125" fill="#fff"/><rect x="404" y="117" width="1" height="118" fill="#000"/><rect x="402" y="128" width="5" height="91" fill="#000"/><rect x="403" y="129" width="3" height="89" fill="#fff"/><rect x="412" y="87" width="1" height="84" fill="#000"/><rect x="410" y="95" width="5" height="34" fill="#000"/><rect x="411" y="96" width="3" height="32" fill="#fff"/><rect x="420" y="62" width="1" height="100" fill="#000"/><rect x="418" y="94" width="5" height="4" fill="#000"/><rect x="419" y="95" width="3" height="2" fill="#fff"/><rect x="428" y="74" width="1" height="34" fill="#000"/><rect x="426" y="94" width="5" height="7" fill="#000"/><rect x="436" y="92" width="1" height="20" fill="#000"/><rect x="434" y="99" width="5" height="12" fill="#000"/><rect x="444" y="106" width="1" height="47" fill="#000"/><rect x="442" y="110" width="5" height="15" fill="#000"/><rect x="452" y="121" width="1" height="70" fill="#000"/><rect x="450" y="123" width="5" height="65" fill="#000"/><rect x="460" y="138" width="1" height="75" fill="#000"/><rect x="458" y="186" width="5" height="3" fill="#000"/><rect x="468" y="150" width="1" height="101" fill="#000"/><rect x="466" y="188" width="5" height="20" fill="#000"/><rect x="476" y="201" width="1" height="57" fill="#000"/><rect x="474" y="206" width="5" height="39" fill="#000"/><rect x="484" y="173" width="1" height="31" fill="#000"/><rect x="482" y="174" width="5" height="15" fill="#000"/><rect x="492" y="151" width="1" height="77" fill="#000"/><rect x="490" y="159" width="5" height="31" fill="#000"/><rect x="491" y="160" width="3" height="29" fill="#fff"/><rect x="500" y="140" width="1" height="41" fill="#000"/><rect x="498" y="159" width="5" height="20" fill="#000"/><rect x="508" y="172" width="1" height="36" fill="#000"/><rect x="506" y="176" width="5" height="24" fill="#000"/><rect x="516" y="153" width="1" height="67" fill="#000"/><rect x="514" y="169" width="5" height="31" fill="#000"/><rect x="515" y="170" width="3" height="29" fill="#fff"/><rect x="524" y="162" width="1" height="19" fill="#000"/><rect x="522" y="167" width="5" height="3" fill="#000"/><rect x="523" y="168" width="3" height="1" fill="#fff"/><rect x="532" y="167" width="1" height="13" fill="#000"/><rect x="530" y="167" width="5" height="12" fill="#000"/><rect x="540" y="178" width="1" height="25" fill="#000"/><rect x="538" y="178" width="5" height="13" fill="#000"/><rect x="548" y="159" width="1" height="34" fill="#000"/><rect x="546" y="169" width="5" height="21" fill="#000"/><rect x="547" y="170" width="3" height="19" fill="#fff"/><rect x="556" y="167" width="1" height="31" fill="#000"/><rect x="554" y="169" width="5" height="29" fill="#000"/><rect x="564" y="179" width="1" height="41" fill="#000"/><rect x="562" y="180" width="5" height="17" fill="#000"/><rect x="563" y="181" width="3" height="15" fill="#fff"/><rect x="572" y="168" width="1" height="15" fill="#000"/><rect x="570" y="176" width="5" height="5" fill="#000"/><rect x="571" y="177" width="3" height="3" fill="#fff"/><rect x="580" y="171" width="1" height="14" fill="#000"/><rect x="578" y="175" width="5" height="2" fill="#000"/><rect x="588" y="171" width="1" height="12" fill="#000"/><rect x="586" y="176" width="5" height="1" fill="#000"/><rect x="596" y="173" width="1" height="9" fill="#000"/><rect x="594" y="174" width="5" height="6" fill="#000"/><rect x="604" y="176" width="1" height="24" fill="#000"/><rect x="602" y="178" width="5" height="17" fill="#000"/><rect x="612" y="175" width="1" height="36" fill="#000"/><rect x="610" y="191" width="5" height="4" fill="#000"/><rect x="611" y="192" width="3" height="2" fill="#fff"/><rect x="620" y="150" width="1" height="178" fill="#000"/><rect x="618" y="190" width="5" height="87" fill="#000"/><rect x="628" y="233" width="1" height="52" fill="#000"/><rect x="626" y="265" width="5" height="12" fill="#000"/><rect x="627" y="266" width="3" height="10" fill="#fff"/><rect x="636" y="258" width="1" height="57" fill="#000"/><rect x="634" y="263" width="5" height="18" fill="#000"/><rect x="644" y="212" width="1" height="69" fill="#000"/><rect x="642" y="220" width="5" height="61" fill="#000"/><rect x="643" y="221" width="3" height="59" fill="#fff"/><rect x="652" y="187" width="1" height="48" fill="#000"/><rect x="650" y="188" width="5" height="31" fill="#000"/><rect x="651" y="189" width="3" height="29" fill="#fff"/><rect x="660" y="144" width="1" height="73" fill="#000"/><rect x="658" y="147" width="5" height="42" fill="#000"/><rect x="659" y="148" width="3" height="40" fill="#fff"/><rect x="668" y="132" width="1" height="60" fill="#000"/><rect x="666" y="147" width="5" height="41" fill="#000"/><rect x="676" y="152" width="1" height="36" fill="#000"/><rect x="674" y="156" width="5" height="31" fill="#000"/><rect x="675" y="157" width="3" height="29" fill="#fff"/><rect x="684" y="107" width="1" height="61" fill="#000"/><rect x="682" y="127" width="5" height="29" fill="#000"/><rect x="683" y="128" width="3" height="27" fill="#fff"/><rect x="692" y="118" width="1" height="19" fill="#000"/><rect x="690" y="127" width="5" height="10" fill="#000"/><rect x="700" y="130" width="1" height="35" fill="#000"/><rect x="698" y="135" width="5" height="12" fill="#000"/><rect x="708" y="117" width="1" height="58" fill="#000"/><rect x="706" y="146" width="5" height="7" fill="#000"/><rect x="716" y="129" width="1" height="32" fill="#000"/><rect x="714" y="129" width="5" height="24" fill="#000"/><rect x="715" y="130" width="3" height="22" fill="#fff"/><rect x="724" y="110" width="1" height="15" fill="#000"/><rect x="722" y="114" width="5" height="8" fill="#000"/><rect x="723" y="115" width="3" height="6" fill="#fff"/><rect x="732" y="82" width="1" height="40" fill="#000"/><rect x="730" y="91" width="5" height="26" fill="#000"/><rect x="731" y="92" width="3" height="24" fill="#fff"/><rect x="740" y="54" width="1" height="46" fill="#000"/><rect x="738" y="67" width="5" height="25" fill="#000"/><rect x="739" y="68" width="3" height="23" fill="#fff"/><rect x="748" y="63" width="1" height="27" fill="#000"/><rect x="746" y="67" width="5" height="21" fill="#000"/><rect x="756" y="85" width="1" height="93" fill="#000"/><rect x="754" y="85" width="5" height="65" fill="#000"/><rect x="764" y="144" width="1" height="34" fill="#000"/><rect x="762" y="149" width="5" height="19" fill="#000"/><rect x="772" y="130" width="1" height="43" fill="#000"/><rect x="770" y="150" width="5" height="18" fill="#000"/><rect x="771" y="151" width="3" height="16" fill="#fff"/><rect x="780" y="142" width="1" height="68" fill="#000"/><rect x="778" y="150" width="5" height="13" fill="#000"/><rect x="788" y="133" width="1" height="35" fill="#000"/><rect x="786" y="154" width="5" height="9" fill="#000"/><rect x="787" y="155" width="3" height="7" fill="#fff"/><rect x="796" y="152" width="1" height="52" fill="#000"/><rect x="794" y="152" width="5" height="31" fill="#000"/><rect x="804" y="143" width="1" height="54" fill="#000"/><rect x="802" y="166" width="5" height="15" fill="#000"/><rect x="803" y="167" width="3" height="13" fill="#fff"/><rect x="812" y="144" width="1" height="36" fill="#000"/><rect x="810" y="151" width="5" height="16" fill="#000"/><rect x="811" y="152" width="3" height="14" fill="#fff"/><rect x="820" y="142" width="1" height="19" fill="#000"/><rect x="818" y="150" width="5" height="3" fill="#000"/><rect x="819" y="151" width="3" height="1" fill="#fff"/><rect x="828" y="142" width="1" height="24" fill="#000"/><rect x="826" y="149" width="5" height="3" fill="#000"/><rect x="827" y="150" width="3" height="1" fill="#fff"/><rect x="836" y="139" width="1" height="62" fill="#000"/><rect x="834" y="149" width="5" height="43" fill="#000"/><rect x="844" y="180" width="1" height="51" fill="#000"/><rect x="842" y="191" width="5" height="17" fill="#000"/><rect x="852" y="106" width="1" height="106" fill="#000"/><rect x="850" y="168" width="5" height="40" fill="#000"/><rect x="851" y="169" width="3" height="38" fill="#fff"/><rect x="860" y="164" width="1" height="81" fill="#000"/><rect x="858" y="168" width="5" height="27" fill="#000"/><rect x="868" y="181" width="1" height="26" fill="#000"/><rect x="866" y="194" width="5" height="10" fill="#000"/><rect x="876" y="197" width="1" height="41" fill="#000"/><rect x="874" y="203" width="5" height="3" fill="#000"/><rect x="884" y="203" width="1" height="128" fill="#000"/><rect x="882" y="204" width="5" height="103" fill="#000"/><rect x="892" y="301" width="1" height="48" fill="#000"/><rect x="890" y="305" width="5" height="33" fill="#000"/><rect x="900" y="314" width="1" height="125" fill="#000"/><rect x="898" y="337" width="5" height="42" fill="#000"/><rect x="908" y="343" width="1" height="40" fill="#000"/><rect x="906" y="344" width="5" height="35" fill="#000"/><rect x="907" y="345" width="3" height="33" fill="#fff"/><rect x="916" y="325" width="1" height="42" fill="#000"/><rect x="914" y="329" width="5" height="16" fill="#000"/><rect x="915" y="330" width="3" height="14" fill="#fff"/><rect x="924" y="253" width="1" height="102" fill="#000"/><rect x="922" y="281" width="5" height="51" fill="#000"/><rect x="923" y="282" width="3" height="49" fill="#fff"/><rect x="932" y="275" width="1" height="66" fill="#000"/><rect x="930" y="281" width="5" height="28" fill="#000"/><rect x="940" y="280" width="1" height="40" fill="#000"/><rect x="938" y="284" width="5" height="25" fill="#000"/><rect x="939" y="285" width="3" height="23" fill="#fff"/><rect x="948" y="243" width="1" height="60" fill="#000"/><rect x="946" y="266" width="5" height="18" fill="#000"/><rect x="947" y="267" width="3" height="16" fill="#fff"/><rect x="956" y="246" width="1" height="24" fill="#000"/><rect x="954" y="255" width="5" height="12" fill="#000"/><rect x="955" y="256" width="3" height="10" fill="#fff"/><rect x="964" y="239" width="1" height="16" fill="#000"/><rect x="962" y="247" width="5" height="3" fill="#000"/><rect x="963" y="248" width="3" height="1" fill="#fff"/><rect x="972" y="224" width="1" height="96" fill="#000"/><rect x="970" y="249" width="5" height="50" fill="#000"/><rect x="980" y="248" width="1" height="63" fill="#000"/><rect x="978" y="252" width="5" height="46" fill="#000"/><rect x="979" y="253" width="3" height="44" fill="#fff"/><rect x="988" y="239" width="1" height="27" fill="#000"/><rect x="986" y="240" width="5" height="13" fill="#000"/><rect x="987" y="241" width="3" height="11" fill="#fff"/><rect x="996" y="227" width="1" height="64" fill="#000"/><rect x="994" y="240" width="5" height="36" fill="#000"/><rect x="1004" y="249" width="1" height="39" fill="#000"/><rect x="1002" y="274" width="5" height="4" fill="#000"/><rect x="1012" y="274" width="1" height="29" fill="#000"/><rect x="1010" y="279" width="5" height="16" fill="#000"/><rect x="1020" y="243" width="1" height="64" fill="#000"/><rect x="1018" y="255" width="5" height="41" fill="#000"/><rect x="1019" y="256" width="3" height="39" fill="#fff"/><rect x="1028" y="246" width="1" height="24" fill="#000"/><rect x="1026" y="250" width="5" height="5" fill="#000"/><rect x="1027" y="251" width="3" height="3" fill="#fff"/><rect x="1036" y="232" width="1" height="39" fill="#000"/><rect x="1034" y="250" width="5" height="7" fill="#000"/><rect x="1044" y="210" width="1" height="73" fill="#000"/><rect x="1042" y="256" width="5" height="2" fill="#000"/><rect x="1052" y="242" width="1" height="29" fill="#000"/><rect x="1050" y="251" width="5" height="7" fill="#000"/><rect x="1051" y="252" width="3" height="5" fill="#fff"/><rect x="1060" y="235" width="1" height="20" fill="#000"/><rect x="1058" y="247" width="5" height="5" fill="#000"/><rect x="1059" y="248" width="3" height="3" fill="#fff"/><rect x="1068" y="243" width="1" height="40" fill="#000"/><rect x="1066" y="246" width="5" height="31" fill="#000"/><rect x="1076" y="250" width="1" height="45" fill="#000"/><rect x="1074" y="254" width="5" height="22" fill="#000"/><rect x="1075" y="255" width="3" height="20" fill="#fff"/><rect x="1084" y="254" width="1" height="26" fill="#000"/><rect x="1082" y="256" width="5" height="23" fill="#000"/><rect x="1092" y="275" width="1" height="103" fill="#000"/><rect x="1090" y="279" width="5" height="90" fill="#000"/><rect x="1100" y="354" width="1" height="35" fill="#000"/><rect x="1098" y="364" width="5" height="5" fill="#000"/><rect x="1099" y="365" width="3" height="3" fill="#fff"/><rect x="1108" y="342" width="1" height="57" fill="#000"/><rect x="1106" y="364" width="5" height="34" fill="#000"/><rect x="1116" y="302" width="1" height="98" fill="#000"/><rect x="1114" y="314" width="5" height="86" fill="#000"/><rect x="1115" y="315" width="3" height="84" fill="#fff"/><rect x="1124" y="294" width="1" height="97" fill="#000"/><rect x="1122" y="314" width="5" height="52" fill="#000"/><rect x="1132" y="366" width="1" height="66" fill="#000"/><rect x="1130" y="366" width="5" height="31" fill="#000"/><rect x="1140" y="392" width="1" height="95" fill="#000"/><rect x="1138" y="395" width="5" height="32" fill="#000"/><rect x="1148" y="414" width="1" height="26" fill="#000"/><rect x="1146" y="417" width="5" height="10" fill="#000"/><rect x="1147" y="418" width="3" height="8" fill="#fff"/><rect x="1156" y="393" width="1" height="31" fill="#000"/><rect x="1154" y="404" width="5" height="16" fill="#000"/><rect x="1155" y="405" width="3" height="14" fill="#fff"/><rect x="1164" y="367" width="1" height="70" fill="#000"/><rect x="1162" y="404" width="5" height="25" fill="#000"/><rect x="1172" y="378" width="1" height="56" fill="#000"/><rect x="1170" y="395" width="5" height="32" fill="#000"/><rect x="1171" y="396" width="3" height="30" fill="#fff"/><rect x="1180" y="359" width="1" height="45" fill="#000"/><rect x="1178" y="384" width="5" height="12" fill="#000"/><rect x="1179" y="385" width="3" height="10" fill="#fff"/><rect x="1188" y="364" width="1" height="53" fill="#000"/><rect x="1186" y="384" width="5" height="19" fill="#000"/><rect x="1196" y="400" width="1" height="31" fill="#000"/><rect x="1194" y="402" width="5" height="9" fill="#000"/><rect x="1204" y="392" width="1" height="14" fill="#000"/><rect x="1202" y="393" width="5" height="9" fill="#000"/><rect x="1212" y="393" width="1" height="82" fill="#000"/><rect x="1210" y="399" width="5" height="54" fill="#000"/><rect x="1220" y="396" width="1" height="64" fill="#000"/><rect x="1218" y="426" width="5" height="27" fill="#000"/><rect x="1219" y="427" width="3" height="25" fill="#fff"/><rect x="1228" y="420" width="1" height="35" fill="#000"/><rect x="1226" y="428" width="5" height="3" fill="#000"/><rect x="1227" y="429" width="3" height="1" fill="#fff"/><rect x="1236" y="400" width="1" height="43" fill="#000"/><rect x="1234" y="409" width="5" height="19" fill="#000"/><rect x="1235" y="410" width="3" height="17" fill="#fff"/><rect x="1244" y="394" width="1" height="22" fill="#000"/><rect x="1242" y="400" width="5" height="9" fill="#000"/><rect x="1243" y="401" width="3" height="7" fill="#fff"/><rect x="1252" y="395" width="1" height="17" fill="#000"/><rect x="1250" y="400" width="5" height="6" fill="#000"/><rect x="1260" y="380" width="1" height="47" fill="#000"/><rect x="1258" y="406" width="5" height="6" fill="#000"/><rect x="1268" y="410" width="1" height="57" fill="#000"/><rect x="1266" y="412" width="5" height="49" fill="#000"/><rect x="1276" y="436" width="1" height="45" fill="#000"/><rect x="1274" y="450" width="5" height="12" fill="#000"/><rect x="1275" y="451" width="3" height="10" fill="#fff"/><rect x="1284" y="441" width="1" height="117" fill="#000"/><rect x="1282" y="450" width="5" height="85" fill="#000"/><rect x="1292" y="497" width="1" height="48" fill="#000"/><rect x="1290" y="502" width="5" height="33" fill="#000"/><rect x="1291" y="503" width="3" height="31" fill="#fff"/><rect x="1300" y="497" width="1" height="23" fill="#000"/><rect x="1298" y="502" width="5" height="14" fill="#000"/><rect x="1308" y="468" width="1" height="55" fill="#000"/><rect x="1306" y="481" width="5" height="40" fill="#000"/><rect x="1307" y="482" width="3" height="38" fill="#fff"/><rect x="1316" y="460" width="1" height="25" fill="#000"/><rect x="1314" y="477" width="5" height="4" fill="#000"/><rect x="1315" y="478" width="3" height="2" fill="#fff"/><rect x="1324" y="471" width="1" height="29" fill="#000"/><rect x="1322" y="477" width="5" height="16" fill="#000"/><rect x="1332" y="445" width="1" height="65" fill="#000"/><rect x="1330" y="457" width="5" height="36" fill="#000"/><rect x="1331" y="458" width="3" height="34" fill="#fff"/><rect x="1340" y="440" width="1" height="27" fill="#000"/><rect x="1338" y="457" width="5" height="3" fill="#000"/><rect x="1339" y="458" width="3" height="1" fill="#fff"/><rect x="1348" y="454" width="1" height="24" fill="#000"/><rect x="1346" y="460" width="5" height="18" fill="#000"/><rect x="1356" y="432" width="1" height="46" fill="#000"/><rect x="1354" y="450" width="5" height="26" fill="#000"/><rect x="1355" y="451" width="3" height="24" fill="#fff"/><rect x="1364" y="444" width="1" height="91" fill="#000"/><rect x="1362" y="450" width="5" height="80" fill="#000"/><rect x="1372" y="474" width="1" height="60" fill="#000"/><rect x="1370" y="487" width="5" height="43" fill="#000"/><rect x="1371" y="488" width="3" height="41" fill="#fff"/><rect x="1380" y="447" width="1" height="54" fill="#000"/><rect x="1378" y="467" width="5" height="20" fill="#000"/><rect x="1379" y="468" width="3" height="18" fill="#fff"/><rect x="1388" y="451" width="1" height="36" fill="#000"/><rect x="1386" y="467" width="5" height="14" fill="#000"/><rect x="1396" y="472" width="1" height="19" fill="#000"/><rect x="1394" y="480" width="5" height="2" fill="#000"/><rect x="1404" y="470" width="1" height="53" fill="#000"/><rect x="1402" y="481" width="5" height="28" fill="#000"/><rect x="1412" y="469" width="1" height="49" fill="#000"/><rect x="1410" y="477" width="5" height="32" fill="#000"/><rect x="1411" y="478" width="3" height="30" fill="#fff"/><rect x="1420" y="470" width="1" height="33" fill="#000"/><rect x="1418" y="477" width="5" height="21" fill="#000"/><rect x="1428" y="464" width="1" height="46" fill="#000"/><rect x="1426" y="474" width="5" height="24" fill="#000"/><rect x="1427" y="475" width="3" height="22" fill="#fff"/><rect x="1436" y="469" width="1" height="14" fill="#000"/><rect x="1434" y="474" width="5" height="6" fill="#000"/></g>
<g shape-rendering="crispEdges"><rect x="4" y="640" width="1" height="50" fill="#c0c0c0"/><rect x="12" y="639" width="1" height="51" fill="#c0c0c0"/><rect x="20" y="639" width="1" height="51" fill="#c0c0c0"/><rect x="28" y="640" width="1" height="50" fill="#c0c0c0"/><rect x="36" y="640" width="1" height="50" fill="#c0c0c0"/><rect x="44" y="638" width="1" height="52" fill="#c0c0c0"/><rect x="52" y="636" width="1" height="54" fill="#c0c0c0"/><rect x="60" y="627" width="1" height="63" fill="#c0c0c0"/><rect x="68" y="620" width="1" height="70" fill="#c0c0c0"/><rect x="76" y="613" width="1" height="77" fill="#c0c0c0"/><rect x="84" y="606" width="1" height="84" fill="#c0c0c0"/><rect x="92" y="598" width="1" height="92" fill="#c0c0c0"/><rect x="100" y="589" width="1" height="101" fill="#c0c0c0"/><rect x="108" y="592" width="1" height="98" fill="#c0c0c0"/><rect x="116" y="592" width="1" height="98" fill="#c0c0c0"/><rect x="124" y="601" width="1" height="89" fill="#c0c0c0"/><rect x="132" y="610" width="1" height="80" fill="#c0c0c0"/><rect x="140" y="619" width="1" height="71" fill="#c0c0c0"/><rect x="148" y="623" width="1" height="67" fill="#c0c0c0"/><rect x="156" y="625" width="1" height="65" fill="#c0c0c0"/><rect x="164" y="630" width="1" height="60" fill="#c0c0c0"/><rect x="172" y="632" width="1" height="58" fill="#c0c0c0"/><rect x="180" y="631" width="1" height="59" fill="#c0c0c0"/><rect x="188" y="634" width="1" height="56" fill="#c0c0c0"/><rect x="196" y="635" width="1" height="55" fill="#c0c0c0"/><rect x="204" y="637" width="1" height="53" fill="#c0c0c0"/><rect x="212" y="642" width="1" height="48" fill="#c0c0c0"/><rect x="220" y="645" width="1" height="45" fill="#c0c0c0"/><rect x="228" y="643" width="1" height="47" fill="#c0c0c0"/><rect x="236" y="644" width="1" height="46" fill="#c0c0c0"/><rect x="244" y="645" width="1" height="45" fill="#c0c0c0"/><rect x="252" y="648" width="1" height="42" fill="#c0c0c0"/><rect x="260" y="653" width="1" height="37" fill="#c0c0c0"/><rect x="268" y="658" width="1" height="32" fill="#c0c0c0"/><rect x="276" y="666" width="1" height="24" fill="#c0c0c0"/><rect x="284" y="670" width="1" height="20" fill="#c0c0c0"/><rect x="292" y="675" width="1" height="15" fill="#c0c0c0"/><rect x="300" y="677" width="1" height="13" fill="#c0c0c0"/><rect x="308" y="680" width="1" height="10" fill="#c0c0c0"/><rect x="316" y="686" width="1" height="4" fill="#c0c0c0"/><rect x="324" y="689" width="1" height="4" fill="#c0c0c0"/><rect x="332" y="689" width="1" height="8" fill="#c0c0c0"/><rect x="340" y="689" width="1" height="13" fill="#c0c0c0"/><rect x="348" y="689" width="1" height="12" fill="#c0c0c0"/><rect x="356" y="689" width="1" height="9" fill="#c0c0c0"/><rect x="364" y="689" width="1" height="6" fill="#c0c0c0"/><rect x="372" y="688" width="1" height="2" fill="#c0c0c0"/><rect x="380" y="684" width="1" height="6" fill="#c0c0c0"/><rect x="388" y="680" width="1" height="10" fill="#c0c0c0"/><rect x="396" y="665" width="1" height="25" fill="#c0c0c0"/><rect x="404" y="645" width="1" height="45" fill="#c0c0c0"/><rect x="412" y="627" width="1" height="63" fill="#c0c0c0"/><rect x="420" y="614" width="1" height="76" fill="#c0c0c0"/><rect x="428" y="604" width="1" height="86" fill="#c0c0c0"/><rect x="436" y="599" width="1" height="91" fill="#c0c0c0"/><rect x="444" y="597" width="1" height="93" fill="#c0c0c0"/><rect x="452" y="603" width="1" height="87" fill="#c0c0c0"/><rect x="460" y="608" width="1" height="82" fill="#c0c0c0"/><rect x="468" y="615" width="1" height="75" fill="#c0c0c0"/><rect x="476" y="625" width="1" height="65" fill="#c0c0c0"/><rect x="484" y="628" width="1" height="62" fill="#c0c0c0"/><rect x="492" y="628" width="1" height="62" fill="#c0c0c0"/><rect x="500" y="631" width="1" height="59" fill="#c0c0c0"/><rect x="508" y="636" width="1" height="54" fill="#c0c0c0"/><rect x="516" y="637" width="1" height="53" fill="#c0c0c0"/><rect x="524" y="639" width="1" height="51" fill="#c0c0c0"/><rect x="532" y="642" width="1" height="48" fill="#c0c0c0"/><rect x="540" y="646" width="1" height="44" fill="#c0c0c0"/><rect x="548" y="647" width="1" height="43" fill="#c0c0c0"/><rect x="556" y="652" width="1" height="38" fill="#c0c0c0"/><rect x="564" y="654" width="1" height="36" fill="#c0c0c0"/><rect x="572" y="656" width="1" height="34" fill="#c0c0c0"/><rect x="580" y="658" width="1" height="32" fill="#c0c0c0"/><rect x="588" y="659" width="1" height="31" fill="#c0c0c0"/><rect x="596" y="661" width="1" height="29" fill="#c0c0c0"/><rect x="604" y="665" width="1" height="25" fill="#c0c0c0"/><rect x="612" y="667" width="1" height="23" fill="#c0c0c0"/><rect x="620" y="677" width="1" height="13" fill="#c0c0c0"/><rect x="628" y="684" width="1" height="6" fill="#c0c0c0"/><rect x="636" y="689" width="1" height="3" fill="#c0c0c0"/><rect x="644" y="689" width="1" height="3" fill="#c0c0c0"/><rect x="652" y="688" width="1" height="2" fill="#c0c0c0"/><rect x="660" y="682" width="1" height="8" fill="#c0c0c0"/><rect x="668" y="681" width="1" height="9" fill="#c0c0c0"/><rect x="676" y="677" width="1" height="13" fill="#c0c0c0"/><rect x="684" y="672" width="1" height="18" fill="#c0c0c0"/><rect x="692" y="668" width="1" height="22" fill="#c0c0c0"/><rect x="700" y="667" width="1" height="23" fill="#c0c0c0"/><rect x="708" y="667" width="1" height="23" fill="#c0c0c0"/><rect x="716" y="665" width="1" height="25" fill="#c0c0c0"/><rect x="724" y="662" width="1" height="28" fill="#c0c0c0"/><rect x="732" y="658" width="1" height="32" fill="#c0c0c0"/><rect x="740" y="653" width="1" height="37" fill="#c0c0c0"/><rect x="748" y="651" width="1" height="39" fill="#c0c0c0"/><rect x="756" y="656" width="1" height="34" fill="#c0c0c0"/><rect x="764" y="662" width="1" height="28" fill="#c0c0c0"/><rect x="772" y="665" width="1" height="25" fill="#c0c0c0"/><rect x="780" y="670" width="1" height="20" fill="#c0c0c0"/><rect x="788" y="672" width="1" height="18" fill="#c0c0c0"/><rect x="796" y="677" width="1" height="13" fill="#c0c0c0"/><rect x="804" y="679" width="1" height="11" fill="#c0c0c0"/><rect x="812" y="680" width="1" height="10" fill="#c0c0c0"/><rect x="820" y="681" width="1" height="9" fill="#c0c0c0"/><rect x="828" y="681" width="1" height="9" fill="#c0c0c0"/><rect x="836" y="685" width="1" height="5" fill="#c0c0c0"/><rect x="844" y="689" width="1" height="2" fill="#c0c0c0"/><rect x="852" y="689" width="1" height="2" fill="#c0c0c0"/><rect x="860" y="689" width="1" height="5" fill="#c0c0c0"/><rect x="868" y="689" width="1" height="8" fill="#c0c0c0"/><rect x="876" y="689" width="1" height="10" fill="#c0c0c0"/><rect x="884" y="689" width="1" height="21" fill="#c0c0c0"/><rect x="892" y="689" width="1" height="33" fill="#c0c0c0"/><rect x="900" y="689" width="1" height="45" fill="#c0c0c0"/><rect x="908" y="689" width="1" height="51" fill="#c0c0c0"/><rect x="916" y="689" width="1" height="54" fill="#c0c0c0"/><rect x="924" y="689" width="1" height="51" fill="#c0c0c0"/><rect x="932" y="689" width="1" height="51" fill="#c0c0c0"/><rect x="940" y="689" width="1" height="48" fill="#c0c0c0"/><rect x="948" y="689" width="1" height="43" fill="#c0c0c0"/><rect x="956" y="689" width="1" height="38" fill="#c0c0c0"/><rect x="964" y="689" width="1" height="33" fill="#c0c0c0"/><rect x="972" y="689" width="1" height="33" fill="#c0c0c0"/><rect x="980" y="689" width="1" height="29" fill="#c0c0c0"/><rect x="988" y="689" width="1" height="24" fill="#c0c0c0"/><rect x="996" y="689" width="1" height="23" fill="#c0c0c0"/><rect x="1004" y="689" width="1" height="22" fill="#c0c0c0"/><rect x="1012" y="689" width="1" height="23" fill="#c0c0c0"/><rect x="1020" y="689" width="1" height="20" fill="#c0c0c0"/><rect x="1028" y="689" width="1" height="16" fill="#c0c0c0"/><rect x="1036" y="689" width="1" height="14" fill="#c0c0c0"/><rect x="1044" y="689" width="1" height="13" fill="#c0c0c0"/><rect x="1052" y="689" width="1" height="10" fill="#c0c0c0"/><rect x="1060" y="689" width="1" height="8" fill="#c0c0c0"/><rect x="1068" y="689" width="1" height="9" fill="#c0c0c0"/><rect x="1076" y="689" width="1" height="8" fill="#c0c0c0"/><rect x="1084" y="689" width="1" height="9" fill="#c0c0c0"/><rect x="1092" y="689" width="1" height="18" fill="#c0c0c0"/><rect x="1100" y="689" width="1" height="25" fill="#c0c0c0"/><rect x="1108" y="689" width="1" height="33" fill="#c0c0c0"/><rect x="1116" y="689" width="1" height="31" fill="#c0c0c0"/><rect x="1124" y="689" width="1" height="34" fill="#c0c0c0"/><rect x="1132" y="689" width="1" height="39" fill="#c0c0c0"/><rect x="1140" y="689" width="1" height="45" fill="#c0c0c0"/><rect x="1148" y="689" width="1" height="49" fill="#c0c0c0"/><rect x="1156" y="689" width="1" height="50" fill="#c0c0c0"/><rect x="1164" y="689" width="1" height="52" fill="#c0c0c0"/><rect x="1172" y="689" width="1" height="50" fill="#c0c0c0"/><rect x="1180" y="689" width="1" height="47" fill="#c0c0c0"/><rect x="1188" y="689" width="1" height="46" fill="#c0c0c0"/><rect x="1196" y="689" width="1" height="46" fill="#c0c0c0"/><rect x="1204" y="689" width="1" height="44" fill="#c0c0c0"/><rect x="1212" y="689" width="1" height="46" fill="#c0c0c0"/><rect x="1220" y="689" width="1" height="46" fill="#c0c0c0"/><rect x="1228" y="689" width="1" height="45" fill="#c0c0c0"/><rect x="1236" y="689" width="1" height="42" fill="#c0c0c0"/><rect x="1244" y="689" width="1" height="38" fill="#c0c0c0"/><rect x="1252" y="689" width="1" height="35" fill="#c0c0c0"/><rect x="1260" y="689" width="1" height="33" fill="#c0c0c0"/><rect x="1268" y="689" width="1" height="36" fill="#c0c0c0"/><rect x="1276" y="689" width="1" height="37" fill="#c0c0c0"/><rect x="1284" y="689" width="1" height="45" fill="#c0c0c0"/><rect x="1292" y="689" width="1" height="47" fill="#c0c0c0"/><rect x="1300" y="689" width="1" height="50" fill="#c0c0c0"/><rect x="1308" y="689" width="1" height="49" fill="#c0c0c0"/><rect x="1316" y="689" width="1" height="47" fill="#c0c0c0"/><rect x="1324" y="689" width="1" height="46" fill="#c0c0c0"/><rect x="1332" y="689" width="1" height="42" fill="#c0c0c0"/><rect x="1340" y="689" width="1" height="38" fill="#c0c0c0"/><rect x="1348" y="689" width="1" height="36" fill="#c0c0c0"/><rect x="1356" y="689" width="1" height="32" fill="#c0c0c0"/><rect x="1364" y="689" width="1" height="36" fill="#c0c0c0"/><rect x="1372" y="689" width="1" height="34" fill="#c0c0c0"/><rect x="1380" y="689" width="1" height="31" fill="#c0c0c0"/><rect x="1388" y="689" width="1" height="29" fill="#c0c0c0"/><rect x="1396" y="689" width="1" height="28" fill="#c0c0c0"/><rect x="1404" y="689" width="1" height="29" fill="#c0c0c0"/><rect x="1412" y="689" width="1" height="26" fill="#c0c0c0"/><rect x="1420" y="689" width="1" height="26" fill="#c0c0c0"/><rect x="1428" y="689" width="1" height="23" fill="#c0c0c0"/><rect x="1436" y="689" width="1" height="21" fill="#c0c0c0"/><polyline points="0,645.4 4.5,644.4 12.5,643.1 20.5,641.9 28.5,641.0 36.5,640.3 44.5,639.8 52.5,639.2 60.5,637.9 68.5,635.9 76.5,633.0 84.5,629.3 92.5,624.8 100.5,619.1 108.5,613.8 116.5,608.6 124.5,604.8 132.5,602.9 140.5,602.8 148.5,603.9 156.5,606.0 164.5,609.5 172.5,614.3 180.5,618.6 188.5,623.2 196.5,627.0 204.5,629.9 212.5,632.5 220.5,635.0 228.5,637.0 236.5,638.5 244.5,640.0 252.5,641.9 260.5,644.1 268.5,646.6 276.5,649.9 284.5,653.0 292.5,656.3 300.5,660.1 308.5,664.1 316.5,668.7 324.5,673.5 332.5,678.3 340.5,683.1 348.5,686.9 356.5,689.9 364.5,691.9 372.5,693.1 380.5,693.5 388.5,692.9 396.5,689.9 404.5,684.2 412.5,676.0 420.5,666.4 428.5,656.1 436.5,645.6 444.5,635.6 452.5,626.5 460.5,618.5 468.5,613.0 476.5,610.7 484.5,610.8 492.5,612.4 500.5,615.4 508.5,619.5 516.5,624.0 524.5,628.0 532.5,631.8 540.5,635.2 548.5,637.8 556.5,640.4 564.5,643.3 572.5,646.0 580.5,648.4 588.5,650.9 596.5,653.3 604.5,655.8 612.5,658.2 620.5,661.5 628.5,665.1 636.5,669.3 644.5,673.2 652.5,676.6 660.5,679.1 668.5,681.3 676.5,682.7 684.5,683.2 692.5,682.2 700.5,680.3 708.5,677.5 716.5,674.6 724.5,671.7 732.5,669.0 740.5,665.9 748.5,663.1 756.5,661.3 764.5,660.6 772.5,660.4 780.5,660.7 788.5,661.6 796.5,663.2 804.5,665.6 812.5,668.6 820.5,671.9 828.5,674.7 836.5,677.2 844.5,680.0 852.5,682.3 860.5,684.6 868.5,686.7 876.5,688.8 884.5,692.1 892.5,696.5 900.5,702.3 908.5,708.3 916.5,714.1 924.5,719.4 932.5,724.5 940.5,728.9 948.5,732.6 956.5,734.4 964.5,734.4 972.5,733.0 980.5,730.5 988.5,727.1 996.5,724.0 1004.5,720.8 1012.5,718.1 1020.5,715.5 1028.5,713.2 1036.5,711.1 1044.5,708.9 1052.5,706.8 1060.5,705.1 1068.5,703.6 1076.5,702.1 1084.5,700.5 1092.5,700.4 1100.5,701.3 1108.5,703.4 1116.5,705.5 1124.5,708.1 1132.5,711.5 1140.5,715.4 1148.5,719.9 1156.5,724.4 1164.5,728.2 1172.5,731.0 1180.5,732.6 1188.5,734.3 1196.5,735.6 1204.5,736.1 1212.5,736.3 1220.5,736.0 1228.5,735.4 1236.5,734.3 1244.5,732.9 1252.5,731.5 1260.5,730.1 1268.5,729.0 1276.5,728.2 1284.5,728.0 1292.5,728.2 1300.5,728.9 1308.5,729.6 1316.5,730.6 1324.5,731.8 1332.5,732.8 1340.5,733.0 1348.5,732.9 1356.5,731.5 1364.5,730.2 1372.5,728.4 1380.5,726.4 1388.5,724.5 1396.5,722.5 1404.5,721.0 1412.5,719.7 1420.5,718.6 1428.5,717.6 1436.5,716.0" fill="none" stroke="#ff0000" stroke-width="1" stroke-dasharray="3,3"/></g>
<g><text x="1" y="593" font-family="Liberation Sans" font-size="10" fill="#000" text-anchor="start" font-weight="normal" textLength="125" lengthAdjust="spacingAndGlyphs">ACD(12,26,9) -0.1721 -0.2236</text></g>
<g><line x1="0" y1="788.5" x2="1647" y2="788.5" stroke="#c0c0c0" stroke-width="1" stroke-dasharray="3,3" stroke-dashoffset="-1"/><line x1="0" y1="839.5" x2="1647" y2="839.5" stroke="#c0c0c0" stroke-width="1" stroke-dasharray="3,3" stroke-dashoffset="-1"/><line x1="0" y1="900.5" x2="1647" y2="900.5" stroke="#c0c0c0" stroke-width="1" stroke-dasharray="3,3" stroke-dashoffset="-1"/><text x="0" y="765" font-family="Liberation Sans" font-size="10" fill="#000" text-anchor="start" font-weight="normal" textLength="60" lengthAdjust="spacingAndGlyphs">SI(14) 47.1906</text></g>
<g shape-rendering="crispEdges"><polyline points="0,804.0 4.5,802.0 12.5,800.7 20.5,803.1 28.5,809.2 36.5,802.9 44.5,799.1 52.5,794.7 60.5,783.4 68.5,781.8 76.5,780.5 84.5,777.2 92.5,774.7 100.5,771.7 108.5,809.6 116.5,805.1 124.5,826.3 132.5,828.9 140.5,830.0 148.5,824.8 156.5,819.1 164.5,827.0 172.5,822.9 180.5,816.7 188.5,825.2 196.5,822.2 204.5,821.9 212.5,832.7 220.5,828.3 228.5,818.7 236.5,824.4 244.5,823.9 252.5,830.6 260.5,834.7 268.5,835.8 276.5,847.9 284.5,838.9 292.5,844.5 300.5,838.3 308.5,841.6 316.5,849.4 324.5,853.2 332.5,851.4 340.5,854.9 348.5,841.8 356.5,835.3 364.5,833.7 372.5,824.7 380.5,829.1 388.5,825.8 396.5,805.1 404.5,795.8 412.5,793.0 420.5,792.9 428.5,794.6 436.5,797.9 444.5,802.2 452.5,820.2 460.5,820.4 468.5,825.5 476.5,834.8 484.5,824.2 492.5,819.4 500.5,824.2 508.5,829.4 516.5,823.8 524.5,823.5 532.5,826.5 540.5,829.8 548.5,825.3 556.5,833.2 564.5,829.3 572.5,828.5 580.5,828.1 588.5,828.3 596.5,829.4 604.5,835.2 612.5,834.0 620.5,858.6 628.5,854.9 636.5,858.3 644.5,839.5 652.5,831.6 660.5,822.6 668.5,833.6 676.5,827.1 684.5,821.5 692.5,824.0 700.5,826.9 708.5,828.6 716.5,823.5 724.5,820.3 732.5,815.3 740.5,810.8 748.5,817.8 756.5,836.5 764.5,841.2 772.5,836.7 780.5,839.9 788.5,837.6 796.5,845.2 804.5,840.8 812.5,836.4 820.5,836.3 828.5,835.8 836.5,848.7 844.5,852.9 852.5,840.2 860.5,847.5 868.5,849.7 876.5,850.3 884.5,871.2 892.5,875.8 900.5,881.1 908.5,870.0 916.5,865.1 924.5,851.5 932.5,856.6 940.5,850.1 948.5,845.6 956.5,842.9 964.5,840.8 972.5,852.3 980.5,840.8 988.5,837.9 996.5,845.9 1004.5,846.3 1012.5,850.0 1020.5,839.8 1028.5,838.4 1036.5,840.2 1044.5,840.4 1052.5,838.5 1060.5,837.3 1068.5,846.5 1076.5,839.3 1084.5,846.3 1092.5,865.9 1100.5,864.9 1108.5,870.5 1116.5,846.3 1124.5,855.9 1132.5,860.7 1140.5,865.3 1148.5,862.8 1156.5,859.2 1164.5,863.3 1172.5,854.0 1180.5,851.1 1188.5,854.7 1196.5,856.2 1204.5,853.5 1212.5,863.6 1220.5,855.6 1228.5,856.0 1236.5,850.1 1244.5,847.3 1252.5,848.6 1260.5,850.2 1268.5,861.9 1276.5,858.3 1284.5,873.7 1292.5,863.0 1300.5,865.3 1308.5,855.0 1316.5,853.9 1324.5,857.0 1332.5,846.6 1340.5,846.6 1348.5,851.4 1356.5,843.2 1364.5,860.2 1372.5,848.8 1380.5,844.0 1388.5,846.7 1396.5,847.0 1404.5,853.1 1412.5,844.3 1420.5,849.0 1428.5,842.6 1436.5,843.9" fill="none" stroke="#1E90FF" stroke-width="1"/></g>
<g shape-rendering="crispEdges"><rect x="1648" y="47" width="2" height="1" fill="#000"/><text x="1653" y="51" font-family="Liberation Sans" font-size="10" fill="#000" text-anchor="start" font-weight="normal" textLength="33" lengthAdjust="spacingAndGlyphs">131.395</text><rect x="1648" y="80" width="2" height="1" fill="#000"/><text x="1653" y="84" font-family="Liberation Sans" font-size="10" fill="#000" text-anchor="start" font-weight="normal" textLength="33" lengthAdjust="spacingAndGlyphs">131.065</text><rect x="1648" y="113" width="2" height="1" fill="#000"/><text x="1653" y="117" font-family="Liberation Sans" font-size="10" fill="#000" text-anchor="start" font-weight="normal" textLength="33" lengthAdjust="spacingAndGlyphs">130.735</text><rect x="1648" y="146" width="2" height="1" fill="#000"/><text x="1653" y="150" font-family="Liberation Sans" font-size="10" fill="#000" text-anchor="start" font-weight="normal" textLength="33" lengthAdjust="spacingAndGlyphs">130.405</text><rect x="1648" y="179" width="2" height="1" fill="#000"/><text x="1653" y="183" font-family="Liberation Sans" font-size="10" fill="#000" text-anchor="start" font-weight="normal" textLength="33" lengthAdjust="spacingAndGlyphs">130.080</text><rect x="1648" y="212" width="2" height="1" fill="#000"/><text x="1653" y="216" font-family="Liberation Sans" font-size="10" fill="#000" text-anchor="start" font-weight="normal" textLength="33" lengthAdjust="spacingAndGlyphs">129.750</text><rect x="1648" y="245" width="2" height="1" fill="#000"/><text x="1653" y="249" font-family="Liberation Sans" font-size="10" fill="#000" text-anchor="start" font-weight="normal" textLength="33" lengthAdjust="spacingAndGlyphs">129.420</text><rect x="1648" y="278" width="2" height="1" fill="#000"/><text x="1653" y="282" font-family="Liberation Sans" font-size="10" fill="#000" text-anchor="start" font-weight="normal" textLength="33" lengthAdjust="spacingAndGlyphs">129.090</text><rect x="1648" y="311" width="2" height="1" fill="#000"/><text x="1653" y="315" font-family="Liberation Sans" font-size="10" fill="#000" text-anchor="start" font-weight="normal" textLength="33" lengthAdjust="spacingAndGlyphs">128.765</text><rect x="1648" y="344" width="2" height="1" fill="#000"/><text x="1653" y="348" font-family="Liberation Sans" font-size="10" fill="#000" text-anchor="start" font-weight="normal" textLength="33" lengthAdjust="spacingAndGlyphs">128.435</text><rect x="1648" y="377" width="2" height="1" fill="#000"/><text x="1653" y="381" font-family="Liberation Sans" font-size="10" fill="#000" text-anchor="start" font-weight="normal" textLength="33" lengthAdjust="spacingAndGlyphs">128.105</text><rect x="1648" y="410" width="2" height="1" fill="#000"/><text x="1653" y="414" font-family="Liberation Sans" font-size="10" fill="#000" text-anchor="start" font-weight="normal" textLength="33" lengthAdjust="spacingAndGlyphs">127.775</text><rect x="1648" y="443" width="2" height="1" fill="#000"/><text x="1653" y="447" font-family="Liberation Sans" font-size="10" fill="#000" text-anchor="start" font-weight="normal" textLength="33" lengthAdjust="spacingAndGlyphs">127.450</text><rect x="1648" y="476" width="2" height="1" fill="#000"/><text x="1653" y="480" font-family="Liberation Sans" font-size="10" fill="#000" text-anchor="start" font-weight="normal" textLength="33" lengthAdjust="spacingAndGlyphs">127.120</text><rect x="1648" y="509" width="2" height="1" fill="#000"/><text x="1653" y="513" font-family="Liberation Sans" font-size="10" fill="#000" text-anchor="start" font-weight="normal" textLength="33" lengthAdjust="spacingAndGlyphs">126.790</text><rect x="1648" y="542" width="2" height="1" fill="#000"/><text x="1653" y="546" font-family="Liberation Sans" font-size="10" fill="#000" text-anchor="start" font-weight="normal" textLength="33" lengthAdjust="spacingAndGlyphs">126.460</text><rect x="1648" y="575" width="2" height="1" fill="#000"/><text x="1653" y="579" font-family="Liberation Sans" font-size="10" fill="#000" text-anchor="start" font-weight="normal" textLength="33" lengthAdjust="spacingAndGlyphs">126.130</text><rect x="1649" y="369" width="41" height="11" fill="#ff0000"/><text x="1653" y="379" font-family="Liberation Sans" font-size="10" fill="#fff" text-anchor="start" font-weight="normal" textLength="33" lengthAdjust="spacingAndGlyphs">128.126</text><rect x="1649" y="410" width="41" height="11" fill="#ff0000"/><text x="1653" y="420" font-family="Liberation Sans" font-size="10" fill="#fff" text-anchor="start" font-weight="normal" textLength="33" lengthAdjust="spacingAndGlyphs">127.722</text><rect x="1649" y="446" width="41" height="11" fill="#32cd32"/><text x="1653" y="456" font-family="Liberation Sans" font-size="10" fill="#fff" text-anchor="start" font-weight="normal" textLength="33" lengthAdjust="spacingAndGlyphs">127.356</text><rect x="1649" y="473" width="41" height="11" fill="#000000"/><text x="1653" y="483" font-family="Liberation Sans" font-size="10" fill="#fff" text-anchor="start" font-weight="normal" textLength="33" lengthAdjust="spacingAndGlyphs">127.091</text><rect x="1649" y="505" width="41" height="11" fill="#0000ff"/><text x="1653" y="515" font-family="Liberation Sans" font-size="10" fill="#fff" text-anchor="start" font-weight="normal" textLength="33" lengthAdjust="spacingAndGlyphs">126.769</text><rect x="1649" y="545" width="41" height="11" fill="#0000ff"/><text x="1653" y="555" font-family="Liberation Sans" font-size="10" fill="#fff" text-anchor="start" font-weight="normal" textLength="33" lengthAdjust="spacingAndGlyphs">126.377</text><rect x="1648" y="588" width="2" height="1" fill="#000"/><text x="1652" y="592" font-family="Liberation Sans" font-size="10" fill="#000" text-anchor="start" font-weight="normal" textLength="28" lengthAdjust="spacingAndGlyphs">0.9206</text><rect x="1648" y="689" width="2" height="1" fill="#000"/><text x="1652" y="693" font-family="Liberation Sans" font-size="10" fill="#000" text-anchor="start" font-weight="normal" textLength="18" lengthAdjust="spacingAndGlyphs">0.00</text><rect x="1648" y="744" width="2" height="1" fill="#000"/><text x="1652" y="748" font-family="Liberation Sans" font-size="10" fill="#000" text-anchor="start" font-weight="normal" textLength="26" lengthAdjust="spacingAndGlyphs">-0.515</text><rect x="1648" y="759" width="2" height="1" fill="#000"/><text x="1652" y="763" font-family="Liberation Sans" font-size="10" fill="#000" text-anchor="start" font-weight="normal" textLength="15" lengthAdjust="spacingAndGlyphs">100</text><rect x="1648" y="788" width="2" height="1" fill="#000"/><text x="1652" y="792" font-family="Liberation Sans" font-size="10" fill="#000" text-anchor="start" font-weight="normal" textLength="10" lengthAdjust="spacingAndGlyphs">80</text><rect x="1648" y="839" width="2" height="1" fill="#000"/><text x="1652" y="843" font-family="Liberation Sans" font-size="10" fill="#000" text-anchor="start" font-weight="normal" textLength="10" lengthAdjust="spacingAndGlyphs">50</text><rect x="1648" y="900" width="2" height="1" fill="#000"/><text x="1652" y="904" font-family="Liberation Sans" font-size="10" fill="#000" text-anchor="start" font-weight="normal" textLength="10" lengthAdjust="spacingAndGlyphs">15</text><rect x="1648" y="919" width="2" height="1" fill="#000"/><text x="1652" y="923" font-family="Liberation Sans" font-size="10" fill="#000" text-anchor="start" font-weight="normal" textLength="5" lengthAdjust="spacingAndGlyphs">0</text></g>
<g shape-rendering="crispEdges"><text x="1" y="939" font-family="Liberation Sans" font-size="10" fill="#000" text-anchor="start" font-weight="normal" textLength="37" lengthAdjust="spacingAndGlyphs">Apr 2022</text><rect x="52" y="927" width="1" height="3" fill="#000"/><text x="52" y="939" font-family="Liberation Sans" font-size="10" fill="#000" text-anchor="start" font-weight="normal" textLength="53.5" lengthAdjust="spacingAndGlyphs">18 Apr 20:00</text><rect x="116" y="927" width="1" height="3" fill="#000"/><text x="116" y="939" font-family="Liberation Sans" font-size="10" fill="#000" text-anchor="start" font-weight="normal" textLength="53.5" lengthAdjust="spacingAndGlyphs">20 Apr 04:00</text><rect x="180" y="927" width="1" height="3" fill="#000"/><text x="180" y="939" font-family="Liberation Sans" font-size="10" fill="#000" text-anchor="start" font-weight="normal" textLength="53.5" lengthAdjust="spacingAndGlyphs">21 Apr 12:00</text><rect x="244" y="927" width="1" height="3" fill="#000"/><text x="244" y="939" font-family="Liberation Sans" font-size="10" fill="#000" text-anchor="start" font-weight="normal" textLength="53.5" lengthAdjust="spacingAndGlyphs">24 Apr 23:00</text><rect x="308" y="927" width="1" height="3" fill="#000"/><text x="308" y="939" font-family="Liberation Sans" font-size="10" fill="#000" text-anchor="start" font-weight="normal" textLength="53.5" lengthAdjust="spacingAndGlyphs">26 Apr 04:00</text><rect x="372" y="927" width="1" height="3" fill="#000"/><text x="372" y="939" font-family="Liberation Sans" font-size="10" fill="#000" text-anchor="start" font-weight="normal" textLength="53.5" lengthAdjust="spacingAndGlyphs">27 Apr 12:00</text><rect x="436" y="927" width="1" height="3" fill="#000"/><text x="436" y="939" font-family="Liberation Sans" font-size="10" fill="#000" text-anchor="start" font-weight="normal" textLength="53.5" lengthAdjust="spacingAndGlyphs">28 Apr 20:00</text><rect x="500" y="927" width="1" height="3" fill="#000"/><text x="500" y="939" font-family="Liberation Sans" font-size="10" fill="#000" text-anchor="start" font-weight="normal" textLength="52" lengthAdjust="spacingAndGlyphs">2 May 04:00</text><rect x="564" y="927" width="1" height="3" fill="#000"/><text x="564" y="939" font-family="Liberation Sans" font-size="10" fill="#000" text-anchor="start" font-weight="normal" textLength="52" lengthAdjust="spacingAndGlyphs">3 May 12:00</text><rect x="628" y="927" width="1" height="3" fill="#000"/><text x="628" y="939" font-family="Liberation Sans" font-size="10" fill="#000" text-anchor="start" font-weight="normal" textLength="52" lengthAdjust="spacingAndGlyphs">4 May 20:00</text><rect x="692" y="927" width="1" height="3" fill="#000"/><text x="692" y="939" font-family="Liberation Sans" font-size="10" fill="#000" text-anchor="start" font-weight="normal" textLength="52" lengthAdjust="spacingAndGlyphs">6 May 04:00</text><rect x="756" y="927" width="1" height="3" fill="#000"/><text x="756" y="939" font-family="Liberation Sans" font-size="10" fill="#000" text-anchor="start" font-weight="normal" textLength="52" lengthAdjust="spacingAndGlyphs">9 May 12:00</text><rect x="820" y="927" width="1" height="3" fill="#000"/><text x="820" y="939" font-family="Liberation Sans" font-size="10" fill="#000" text-anchor="start" font-weight="normal" textLength="57.5" lengthAdjust="spacingAndGlyphs">10 May 20:00</text><rect x="884" y="927" width="1" height="3" fill="#000"/><text x="884" y="939" font-family="Liberation Sans" font-size="10" fill="#000" text-anchor="start" font-weight="normal" textLength="57.5" lengthAdjust="spacingAndGlyphs">12 May 04:00</text><rect x="948" y="927" width="1" height="3" fill="#000"/><text x="948" y="939" font-family="Liberation Sans" font-size="10" fill="#000" text-anchor="start" font-weight="normal" textLength="57.5" lengthAdjust="spacingAndGlyphs">13 May 12:00</text><rect x="1012" y="927" width="1" height="3" fill="#000"/><text x="1012" y="939" font-family="Liberation Sans" font-size="10" fill="#000" text-anchor="start" font-weight="normal" textLength="57.5" lengthAdjust="spacingAndGlyphs">16 May 20:00</text><rect x="1076" y="927" width="1" height="3" fill="#000"/><text x="1076" y="939" font-family="Liberation Sans" font-size="10" fill="#000" text-anchor="start" font-weight="normal" textLength="57.5" lengthAdjust="spacingAndGlyphs">18 May 04:00</text><rect x="1140" y="927" width="1" height="3" fill="#000"/><text x="1140" y="939" font-family="Liberation Sans" font-size="10" fill="#000" text-anchor="start" font-weight="normal" textLength="57.5" lengthAdjust="spacingAndGlyphs">19 May 12:00</text><rect x="1204" y="927" width="1" height="3" fill="#000"/><text x="1204" y="939" font-family="Liberation Sans" font-size="10" fill="#000" text-anchor="start" font-weight="normal" textLength="57.5" lengthAdjust="spacingAndGlyphs">22 May 23:00</text><rect x="1268" y="927" width="1" height="3" fill="#000"/><text x="1268" y="939" font-family="Liberation Sans" font-size="10" fill="#000" text-anchor="start" font-weight="normal" textLength="57.5" lengthAdjust="spacingAndGlyphs">24 May 04:00</text><rect x="1332" y="927" width="1" height="3" fill="#000"/><text x="1332" y="939" font-family="Liberation Sans" font-size="10" fill="#000" text-anchor="start" font-weight="normal" textLength="57.5" lengthAdjust="spacingAndGlyphs">25 May 12:00</text><rect x="1396" y="927" width="1" height="3" fill="#000"/><text x="1396" y="939" font-family="Liberation Sans" font-size="10" fill="#000" text-anchor="start" font-weight="normal" textLength="57.5" lengthAdjust="spacingAndGlyphs">26 May 20:00</text></g>
<g><line x1="1074.0" y1="249.5" x2="1138.0" y2="474.4" stroke="#ff0000" stroke-width="3.2"/><path d="M1141.0 485.0 L1133.2 475.8 L1142.8 473.1 Z" fill="#ff0000"/><line x1="1141.0" y1="485.0" x2="1256.0" y2="404.9" stroke="#ff0000" stroke-width="3.2"/><path d="M1265.0 398.6 L1258.8 409.0 L1253.1 400.8 Z" fill="#ff0000"/><line x1="1265.0" y1="398.6" x2="1280.8" y2="548.1" stroke="#ff0000" stroke-width="3.2"/><path d="M1282.0 559.0 L1275.9 548.6 L1285.8 547.5 Z" fill="#ff0000"/><line x1="1282.0" y1="559.0" x2="1351.5" y2="464.7" stroke="#ff0000" stroke-width="3.2"/><path d="M1358.0 455.8 L1355.5 467.6 L1347.5 461.7 Z" fill="#ff0000"/><line x1="1358.0" y1="450.0" x2="1428.9" y2="493.8" stroke="#ff0000" stroke-width="3.2"/><path d="M1438.3 499.6 L1426.3 498.1 L1431.6 489.6 Z" fill="#ff0000"/><line x1="1337.0" y1="720.0" x2="1432.1" y2="709.7" stroke="#ff0000" stroke-width="3.2"/><path d="M1443.0 708.5 L1432.6 714.7 L1431.5 704.7 Z" fill="#ff0000"/><line x1="1330.0" y1="847.4" x2="1433.0" y2="845.2" stroke="#ff0000" stroke-width="3.2"/><path d="M1444.0 845.0 L1433.1 850.2 L1432.9 840.2 Z" fill="#ff0000"/></g>
<g><text x="3" y="37" font-family="Liberation Sans" font-size="10" fill="#000" text-anchor="start" font-weight="normal" textLength="201" lengthAdjust="spacingAndGlyphs">USDJPY-,H4&#160;&#160;127.137 127.187 127.061 127.091</text></g>
<g><rect x="0" y="45" width="43" height="24" fill="url(#gTop)"/><rect x="158" y="45" width="52" height="24" fill="url(#gTop)"/><rect x="0" y="69" width="100" height="33" fill="url(#gBot)"/><rect x="102" y="69" width="108" height="33" fill="url(#gBot)"/><rect x="0" y="68" width="39" height="1" fill="#8a8af0"/><rect x="162" y="68" width="44" height="1" fill="#8a8af0"/><rect x="44.5" y="45.5" width="111" height="22" fill="#fff" stroke="#b4b4b4"/><rect x="46" y="47" width="19" height="19" fill="url(#gBtn)" stroke="#c8c8c8"/><rect x="135" y="47" width="19" height="19" fill="url(#gBtn)" stroke="#c8c8c8"/><path d="M53 55 h5 l-2.5 2.5 z" fill="#6a7ab0"/><path d="M142 57 h5 l-2.5 -2.5 z" fill="#6a7ab0"/><text x="3" y="61" font-family="Liberation Sans" font-size="12" fill="#fff" text-anchor="start" font-weight="normal" textLength="26" lengthAdjust="spacingAndGlyphs">SELL</text><text x="171" y="61" font-family="Liberation Sans" font-size="12" fill="#fff" text-anchor="start" font-weight="normal" textLength="24" lengthAdjust="spacingAndGlyphs">BUY</text><text x="131" y="61" font-family="Liberation Sans" font-size="12" fill="#000" text-anchor="end" font-weight="normal" textLength="22" lengthAdjust="spacingAndGlyphs">1.00</text><text x="14" y="97" font-family="Liberation Sans" font-size="12" fill="#fff" text-anchor="start" font-weight="bold" textLength="20" lengthAdjust="spacingAndGlyphs">127</text><text x="38" y="97" font-family="Liberation Serif" font-size="36" fill="#fff" text-anchor="start" font-weight="normal" textLength="35" lengthAdjust="spacingAndGlyphs">09</text><text x="78" y="81" font-family="Liberation Sans" font-size="11" fill="#fff" text-anchor="start" font-weight="bold">1</text><text x="124" y="97" font-family="Liberation Sans" font-size="12" fill="#fff" text-anchor="start" font-weight="bold" textLength="20" lengthAdjust="spacingAndGlyphs">127</text><text x="151" y="97" font-family="Liberation Serif" font-size="36" fill="#fff" text-anchor="start" font-weight="normal" textLength="34" lengthAdjust="spacingAndGlyphs">10</text><text x="190" y="81" font-family="Liberation Sans" font-size="11" fill="#fff" text-anchor="start" font-weight="bold">9</text></g>
</svg>
</body></html>
